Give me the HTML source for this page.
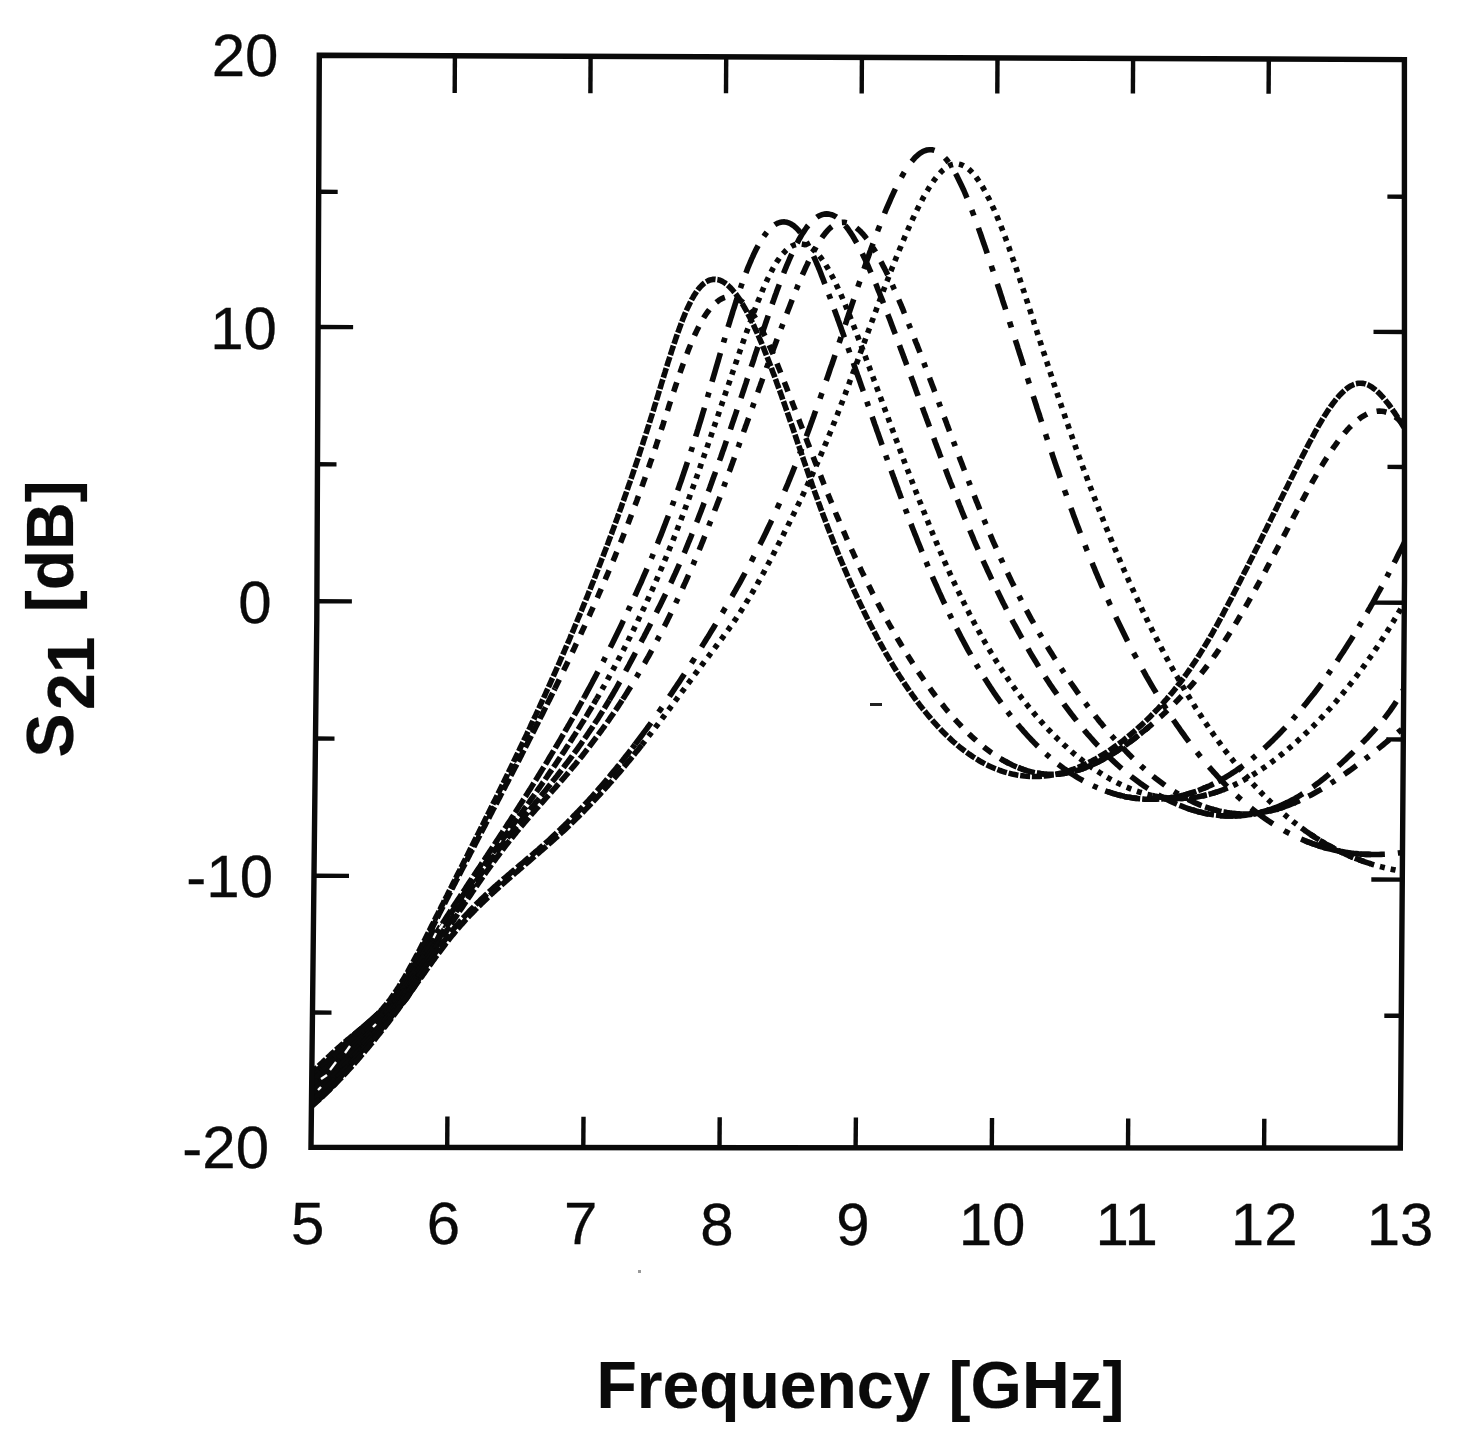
<!DOCTYPE html>
<html lang="en"><head><meta charset="utf-8"><title>S21 [dB] versus Frequency [GHz]</title>
<style>html,body{margin:0;padding:0;background:#fff}svg{display:block}text{font-family:"Liberation Sans",Arial,Helvetica,sans-serif;fill:#0a0a0a}.tk{font-size:60px;stroke:#0a0a0a;stroke-width:.3px}.ax{font-size:66px;font-weight:bold;stroke:#0a0a0a;stroke-width:.2px}.c{fill:none;stroke:#0a0a0a;stroke-linecap:butt;stroke-linejoin:round}.f{fill:none;stroke:#0a0a0a}</style></head><body>
<svg width="1457" height="1452" viewBox="0 0 1457 1452">
<rect width="1457" height="1452" fill="#fff"/>
<defs><clipPath id="cp"><polygon points="319.3,55.2 1404.4,59.6 1404.5,580.0 1400.3,1148.1 311.0,1147.4 316.8,620.0"/></clipPath></defs>
<g clip-path="url(#cp)">
<polygon fill="#0a0a0a" points="312.0,1071.0 315.2,1068.2 330.3,1054.5 342.4,1042.4 351.5,1033.3 363.6,1022.7 375.8,1012.0 387.9,1001.5 398.5,986.4 406.0,975.8 415.0,957.6 424.2,940.9 433.3,922.7 439.4,950.0 428.8,966.7 419.7,983.3 409.0,1000.0 398.5,1012.0 387.9,1025.8 375.8,1039.4 363.6,1053.0 350.0,1069.7 337.9,1084.8 324.2,1098.5 313.6,1107.6 312.0,1109.0"/>
<path class="c" stroke-width="5.6" stroke-dasharray="10 1.8" d="M310.0 1074.1L311.8 1072.4L313.6 1070.7L315.5 1068.9L317.3 1067.2L319.1 1065.5L320.9 1063.8L322.8 1062.1L324.6 1060.4L326.4 1058.7L328.2 1057.0L330.1 1055.3L331.9 1053.6L333.8 1051.9L335.6 1050.2L337.5 1048.5L339.4 1046.9L341.2 1045.2L343.1 1043.6L345.0 1041.9L346.9 1040.3L348.9 1038.7L350.8 1037.1L352.7 1035.5L354.7 1034.0L356.6 1032.4L358.6 1030.8L360.5 1029.3L362.5 1027.7L364.4 1026.1L366.3 1024.5L368.2 1022.8L370.1 1021.2L372.0 1019.5L373.8 1017.8L375.6 1016.1L377.4 1014.3L379.1 1012.5L380.8 1010.7L382.5 1008.8L384.1 1006.9L385.7 1005.0L387.3 1003.1L388.9 1001.1L390.4 999.1L391.8 997.0L393.3 995.0L394.7 992.9L396.1 990.9L397.4 988.8L398.8 986.7L400.1 984.5L401.4 982.4L402.7 980.3L404.0 978.1L405.3 976.0L406.5 973.8L407.8 971.6L409.0 969.4L410.2 967.2L411.4 965.0L412.6 962.9L413.8 960.7L415.0 958.4L416.2 956.2L417.4 954.0L418.5 951.8L419.7 949.6L420.8 947.4L422.0 945.1L423.1 942.9L424.3 940.7L425.4 938.4L426.5 936.2L427.6 934.0L428.8 931.7L429.9 929.5L431.0 927.3L432.1 925.0L433.3 922.8L434.4 920.6L435.5 918.3L436.6 916.1L437.8 913.8L438.9 911.6L440.0 909.4L441.1 907.1L442.3 904.9L443.4 902.7L444.5 900.4L445.6 898.2L446.8 896.0L447.9 893.7L449.0 891.5L450.1 889.2L451.3 887.0L452.4 884.8L453.5 882.5L454.7 880.3L455.8 878.1L456.9 875.8L458.0 873.6L459.2 871.4L460.3 869.1L461.4 866.9L462.5 864.7L463.7 862.4L464.8 860.2L465.9 858.0L467.1 855.7L468.2 853.5L469.3 851.3L470.4 849.0L471.6 846.8L472.7 844.5L473.8 842.3L474.9 840.1L476.1 837.8L477.2 835.6L478.3 833.4L479.4 831.1L480.6 828.9L481.7 826.6L482.8 824.4L483.9 822.2L485.0 819.9L486.1 817.7L487.3 815.4L488.4 813.2L489.5 811.0L490.6 808.7L491.7 806.5L492.8 804.2L493.9 802.0L495.1 799.7L496.2 797.5L497.3 795.3L498.4 793.0L499.5 790.8L500.6 788.5L501.7 786.3L502.8 784.0L503.9 781.8L505.0 779.5L506.1 777.3L507.2 775.0L508.3 772.8L509.4 770.5L510.5 768.3L511.6 766.0L512.7 763.8L513.7 761.5L514.8 759.3L515.9 757.0L517.0 754.7L518.1 752.5L519.2 750.2L520.2 748.0L521.3 745.7L522.4 743.4L523.5 741.2L524.5 738.9L525.6 736.7L526.7 734.4L527.7 732.1L528.8 729.9L529.9 727.6L530.9 725.3L532.0 723.1L533.0 720.8L534.1 718.5L535.2 716.3L536.2 714.0L537.3 711.7L538.3 709.4L539.4 707.2L540.4 704.9L541.4 702.6L542.5 700.3L543.5 698.1L544.6 695.8L545.6 693.5L546.6 691.2L547.7 688.9L548.7 686.7L549.7 684.4L550.7 682.1L551.7 679.8L552.8 677.5L553.8 675.2L554.8 672.9L555.8 670.6L556.8 668.4L557.8 666.1L558.8 663.8L559.8 661.5L560.8 659.2L561.8 656.9L562.8 654.6L563.8 652.3L564.8 650.0L565.8 647.7L566.8 645.4L567.8 643.1L568.8 640.8L569.8 638.5L570.7 636.2L571.7 633.9L572.7 631.6L573.7 629.3L574.6 627.0L575.6 624.7L576.6 622.4L577.5 620.0L578.5 617.7L579.5 615.4L580.4 613.1L581.4 610.8L582.3 608.5L583.3 606.2L584.2 603.8L585.2 601.5L586.1 599.2L587.1 596.9L588.0 594.6L588.9 592.2L589.9 589.9L590.8 587.6L591.7 585.3L592.6 582.9L593.6 580.6L594.5 578.3L595.4 576.0L596.3 573.6L597.2 571.3L598.1 569.0L599.0 566.6L599.9 564.3L600.8 562.0L601.7 559.6L602.6 557.3L603.5 554.9L604.4 552.6L605.3 550.3L606.2 547.9L607.1 545.6L608.0 543.2L608.8 540.9L609.7 538.5L610.6 536.2L611.5 533.9L612.3 531.5L613.2 529.2L614.1 526.8L614.9 524.5L615.8 522.1L616.6 519.7L617.5 517.4L618.3 515.0L619.2 512.7L620.0 510.3L620.9 508.0L621.7 505.6L622.5 503.3L623.4 500.9L624.2 498.5L625.0 496.2L625.9 493.8L626.7 491.4L627.5 489.1L628.3 486.7L629.1 484.3L630.0 482.0L630.8 479.6L631.6 477.2L632.4 474.9L633.2 472.5L634.0 470.1L634.8 467.8L635.6 465.4L636.4 463.0L637.2 460.6L638.0 458.3L638.8 455.9L639.5 453.5L640.3 451.1L641.1 448.7L641.9 446.4L642.7 444.0L643.4 441.6L644.2 439.2L645.0 436.8L645.7 434.5L646.5 432.1L647.3 429.7L648.0 427.3L648.8 424.9L649.5 422.5L650.3 420.1L651.0 417.8L651.8 415.4L652.5 413.0L653.3 410.6L654.0 408.2L654.7 405.8L655.5 403.4L656.2 401.0L656.9 398.6L657.7 396.2L658.4 393.8L659.1 391.4L659.9 389.0L660.6 386.6L661.3 384.3L662.0 381.9L662.8 379.5L663.5 377.1L664.2 374.7L665.0 372.3L665.7 369.9L666.5 367.5L667.2 365.1L667.9 362.7L668.7 360.3L669.5 357.9L670.2 355.6L671.0 353.2L671.7 350.8L672.5 348.4L673.3 346.0L674.1 343.7L674.9 341.3L675.7 338.9L676.5 336.5L677.3 334.2L678.2 331.8L679.0 329.5L679.9 327.1L680.7 324.8L681.6 322.4L682.5 320.1L683.4 317.8L684.4 315.4L685.3 313.1L686.3 310.8L687.3 308.5L688.4 306.3L689.5 304.0L690.6 301.8L691.7 299.5L693.0 297.4L694.2 295.2L695.6 293.1L697.0 291.0L698.5 289.0L700.1 287.1L701.8 285.3L703.7 283.6L705.7 282.1L707.9 280.9L710.2 279.9L712.6 279.4L715.1 279.3L717.6 279.6L720.0 280.3L722.3 281.4L724.4 282.6L726.4 284.1L728.3 285.7L730.2 287.5L731.9 289.3L733.5 291.2L735.1 293.1L736.6 295.1L738.0 297.2L739.4 299.2L740.8 301.4L742.1 303.5L743.4 305.6L744.7 307.8L745.9 310.0L747.1 312.2L748.2 314.4L749.4 316.6L750.5 318.9L751.6 321.1L752.7 323.4L753.8 325.6L754.8 327.9L755.9 330.2L756.9 332.4L757.9 334.7L758.9 337.0L759.9 339.3L760.9 341.6L761.9 343.9L762.8 346.3L763.8 348.6L764.7 350.9L765.6 353.2L766.5 355.5L767.5 357.9L768.4 360.2L769.3 362.5L770.2 364.9L771.1 367.2L771.9 369.6L772.8 371.9L773.7 374.3L774.6 376.6L775.4 379.0L776.3 381.3L777.1 383.7L778.0 386.0L778.8 388.4L779.7 390.7L780.5 393.1L781.4 395.4L782.2 397.8L783.0 400.2L783.9 402.5L784.7 404.9L785.5 407.2L786.3 409.6L787.2 412.0L788.0 414.3L788.8 416.7L789.6 419.1L790.4 421.4L791.3 423.8L792.1 426.2L792.9 428.5L793.7 430.9L794.5 433.3L795.3 435.6L796.1 438.0L796.9 440.4L797.7 442.8L798.5 445.1L799.4 447.5L800.2 449.9L801.0 452.2L801.8 454.6L802.6 457.0L803.4 459.3L804.2 461.7L805.0 464.1L805.9 466.4L806.7 468.8L807.5 471.2L808.3 473.5L809.1 475.9L809.9 478.3L810.8 480.6L811.6 483.0L812.4 485.4L813.3 487.7L814.1 490.1L814.9 492.4L815.8 494.8L816.6 497.1L817.5 499.5L818.3 501.9L819.2 504.2L820.0 506.6L820.9 508.9L821.8 511.3L822.6 513.6L823.5 516.0L824.4 518.3L825.3 520.6L826.1 523.0L827.0 525.3L827.9 527.7L828.8 530.0L829.7 532.3L830.6 534.7L831.6 537.0L832.5 539.3L833.4 541.7L834.3 544.0L835.2 546.3L836.2 548.6L837.1 550.9L838.1 553.3L839.0 555.6L840.0 557.9L840.9 560.2L841.9 562.5L842.9 564.8L843.8 567.1L844.8 569.4L845.8 571.7L846.8 574.0L847.8 576.3L848.8 578.6L849.8 580.9L850.8 583.2L851.8 585.5L852.9 587.8L853.9 590.1L854.9 592.3L856.0 594.6L857.0 596.9L858.1 599.2L859.1 601.4L860.2 603.7L861.3 606.0L862.4 608.2L863.4 610.5L864.5 612.7L865.6 615.0L866.7 617.2L867.9 619.5L869.0 621.7L870.1 623.9L871.2 626.2L872.4 628.4L873.5 630.6L874.7 632.8L875.9 635.0L877.0 637.3L878.2 639.5L879.4 641.7L880.6 643.9L881.8 646.0L883.0 648.2L884.3 650.4L885.5 652.6L886.7 654.8L888.0 656.9L889.3 659.1L890.5 661.3L891.8 663.4L893.1 665.6L894.4 667.7L895.7 669.8L897.0 672.0L898.4 674.1L899.7 676.2L901.1 678.3L902.4 680.4L903.8 682.5L905.2 684.6L906.6 686.6L908.0 688.7L909.4 690.8L910.9 692.8L912.3 694.9L913.8 696.9L915.2 698.9L916.7 700.9L918.2 702.9L919.7 704.9L921.3 706.9L922.8 708.9L924.4 710.8L926.0 712.8L927.6 714.7L929.2 716.6L930.8 718.5L932.4 720.4L934.1 722.3L935.8 724.2L937.4 726.0L939.2 727.8L940.9 729.7L942.6 731.4L944.4 733.2L946.2 735.0L948.0 736.7L949.8 738.4L951.6 740.1L953.5 741.8L955.4 743.4L957.3 745.1L959.2 746.7L961.2 748.2L963.2 749.8L965.1 751.3L967.2 752.8L969.2 754.2L971.3 755.6L973.3 757.0L975.5 758.4L977.6 759.7L979.7 761.0L981.9 762.2L984.1 763.4L986.3 764.6L988.6 765.7L990.8 766.7L993.1 767.7L995.4 768.7L997.8 769.6L1000.1 770.5L1002.5 771.3L1004.9 772.1L1007.3 772.8L1009.7 773.4L1012.1 774.0L1014.6 774.5L1017.0 775.0L1019.5 775.4L1022.0 775.7L1024.5 776.0L1027.0 776.2L1029.5 776.4L1032.0 776.5L1034.5 776.5L1037.0 776.5L1039.5 776.4L1042.0 776.2L1044.5 776.0L1047.0 775.7L1049.4 775.4L1051.9 775.0L1054.4 774.6L1056.8 774.1L1059.3 773.5L1061.7 772.9L1064.1 772.3L1066.5 771.6L1068.9 770.8L1071.3 770.0L1073.6 769.2L1076.0 768.3L1078.3 767.3L1080.6 766.4L1082.9 765.4L1085.2 764.3L1087.4 763.2L1089.7 762.1L1091.9 761.0L1094.1 759.8L1096.3 758.6L1098.5 757.3L1100.6 756.0L1102.8 754.7L1104.9 753.4L1107.0 752.1L1109.1 750.7L1111.1 749.3L1113.2 747.8L1115.2 746.4L1117.3 744.9L1119.3 743.4L1121.3 741.9L1123.3 740.4L1125.2 738.8L1127.2 737.3L1129.1 735.7L1131.0 734.1L1132.9 732.5L1134.8 730.8L1136.7 729.2L1138.6 727.5L1140.5 725.9L1142.3 724.2L1144.1 722.5L1146.0 720.7L1147.8 719.0L1149.6 717.3L1151.3 715.5L1153.1 713.7L1154.8 711.9L1156.6 710.1L1158.3 708.3L1160.0 706.5L1161.7 704.6L1163.4 702.8L1165.0 700.9L1166.7 699.0L1168.3 697.1L1169.9 695.2L1171.6 693.3L1173.1 691.4L1174.7 689.4L1176.3 687.5L1177.8 685.5L1179.4 683.5L1180.9 681.5L1182.4 679.5L1183.9 677.5L1185.4 675.5L1186.8 673.5L1188.3 671.4L1189.7 669.4L1191.1 667.3L1192.5 665.2L1193.9 663.2L1195.3 661.1L1196.7 659.0L1198.0 656.9L1199.4 654.8L1200.7 652.6L1202.0 650.5L1203.4 648.4L1204.7 646.2L1205.9 644.1L1207.2 642.0L1208.5 639.8L1209.8 637.6L1211.0 635.5L1212.3 633.3L1213.5 631.1L1214.7 628.9L1216.0 626.8L1217.2 624.6L1218.4 622.4L1219.6 620.2L1220.8 618.0L1222.0 615.8L1223.2 613.6L1224.3 611.4L1225.5 609.2L1226.7 607.0L1227.9 604.7L1229.0 602.5L1230.2 600.3L1231.4 598.1L1232.5 595.9L1233.7 593.6L1234.8 591.4L1236.0 589.2L1237.1 587.0L1238.2 584.7L1239.4 582.5L1240.5 580.3L1241.6 578.0L1242.8 575.8L1243.9 573.6L1245.0 571.3L1246.2 569.1L1247.3 566.9L1248.4 564.6L1249.5 562.4L1250.6 560.2L1251.8 557.9L1252.9 555.7L1254.0 553.4L1255.1 551.2L1256.2 549.0L1257.4 546.7L1258.5 544.5L1259.6 542.2L1260.7 540.0L1261.8 537.7L1262.9 535.5L1264.0 533.3L1265.1 531.0L1266.3 528.8L1267.4 526.5L1268.5 524.3L1269.6 522.0L1270.7 519.8L1271.8 517.6L1272.9 515.3L1274.0 513.1L1275.1 510.8L1276.3 508.6L1277.4 506.3L1278.5 504.1L1279.6 501.8L1280.7 499.6L1281.8 497.4L1282.9 495.1L1284.0 492.9L1285.1 490.6L1286.3 488.4L1287.4 486.2L1288.5 483.9L1289.6 481.7L1290.7 479.4L1291.9 477.2L1293.0 475.0L1294.1 472.7L1295.2 470.5L1296.3 468.2L1297.5 466.0L1298.6 463.8L1299.7 461.5L1300.8 459.3L1302.0 457.1L1303.1 454.8L1304.3 452.6L1305.4 450.4L1306.5 448.2L1307.7 445.9L1308.8 443.7L1310.0 441.5L1311.2 439.3L1312.4 437.1L1313.6 434.9L1314.7 432.7L1316.0 430.5L1317.2 428.3L1318.4 426.1L1319.7 423.9L1320.9 421.8L1322.2 419.6L1323.5 417.5L1324.8 415.4L1326.2 413.2L1327.5 411.1L1328.9 409.1L1330.3 407.0L1331.8 405.0L1333.3 402.9L1334.8 401.0L1336.3 399.0L1338.0 397.1L1339.6 395.2L1341.4 393.4L1343.2 391.7L1345.0 390.0L1347.0 388.4L1349.0 387.0L1351.2 385.7L1353.4 384.7L1355.8 383.8L1358.3 383.3L1360.8 383.2L1363.2 383.4L1365.7 384.0L1368.0 384.9L1370.2 386.1L1372.3 387.4L1374.3 388.9L1376.3 390.5L1378.1 392.2L1379.9 394.0L1381.6 395.8L1383.3 397.7L1384.9 399.6L1386.4 401.6L1388.0 403.5L1389.5 405.5L1391.0 407.6L1392.4 409.6L1393.8 411.7L1395.2 413.7L1396.6 415.8L1398.0 417.9L1399.3 420.0L1400.7 422.1L1402.0 424.2L1403.4 426.4L1404.7 428.5L1406.0 430.6"/>
<path class="c" stroke-width="5.6" stroke-dasharray="13 3" d="M310.0 1079.0L311.8 1077.3L313.7 1075.6L315.5 1073.8L317.3 1072.1L319.1 1070.4L320.9 1068.7L322.7 1066.9L324.5 1065.2L326.3 1063.5L328.2 1061.7L330.0 1060.0L331.8 1058.3L333.6 1056.6L335.5 1054.9L337.3 1053.2L339.1 1051.5L341.0 1049.8L342.8 1048.1L344.7 1046.4L346.6 1044.8L348.5 1043.2L350.4 1041.5L352.3 1039.9L354.2 1038.3L356.2 1036.7L358.1 1035.2L360.1 1033.6L362.0 1032.0L363.9 1030.4L365.8 1028.8L367.7 1027.1L369.6 1025.5L371.5 1023.8L373.3 1022.1L375.1 1020.4L376.9 1018.6L378.6 1016.8L380.3 1015.0L382.0 1013.1L383.7 1011.2L385.3 1009.3L386.9 1007.4L388.4 1005.4L389.9 1003.4L391.4 1001.4L392.8 999.3L394.2 997.2L395.6 995.2L397.0 993.1L398.3 990.9L399.6 988.8L401.0 986.7L402.2 984.5L403.5 982.4L404.8 980.2L406.0 978.1L407.3 975.9L408.5 973.7L409.7 971.5L410.9 969.3L412.1 967.1L413.3 964.9L414.5 962.7L415.6 960.5L416.8 958.3L418.0 956.0L419.1 953.8L420.3 951.6L421.4 949.4L422.5 947.1L423.7 944.9L424.8 942.7L425.9 940.4L427.1 938.2L428.2 936.0L429.3 933.7L430.4 931.5L431.6 929.2L432.7 927.0L433.8 924.8L434.9 922.5L436.1 920.3L437.2 918.1L438.3 915.8L439.4 913.6L440.6 911.3L441.7 909.1L442.8 906.9L444.0 904.6L445.1 902.4L446.2 900.2L447.4 898.0L448.5 895.7L449.7 893.5L450.8 891.3L451.9 889.0L453.1 886.8L454.2 884.6L455.4 882.4L456.5 880.1L457.7 877.9L458.8 875.7L460.0 873.4L461.1 871.2L462.3 869.0L463.4 866.8L464.6 864.6L465.7 862.3L466.9 860.1L468.0 857.9L469.2 855.7L470.3 853.4L471.5 851.2L472.6 849.0L473.8 846.8L475.0 844.6L476.1 842.3L477.3 840.1L478.4 837.9L479.6 835.7L480.7 833.4L481.9 831.2L483.1 829.0L484.2 826.8L485.4 824.6L486.5 822.3L487.7 820.1L488.9 817.9L490.0 815.7L491.2 813.5L492.3 811.2L493.5 809.0L494.7 806.8L495.8 804.6L497.0 802.4L498.1 800.1L499.3 797.9L500.4 795.7L501.6 793.5L502.8 791.3L503.9 789.0L505.1 786.8L506.2 784.6L507.4 782.4L508.5 780.2L509.7 777.9L510.8 775.7L512.0 773.5L513.1 771.3L514.3 769.0L515.4 766.8L516.6 764.6L517.7 762.4L518.9 760.1L520.0 757.9L521.2 755.7L522.3 753.4L523.4 751.2L524.6 749.0L525.7 746.8L526.9 744.5L528.0 742.3L529.1 740.1L530.3 737.8L531.4 735.6L532.5 733.4L533.7 731.1L534.8 728.9L535.9 726.7L537.1 724.4L538.2 722.2L539.3 720.0L540.4 717.7L541.6 715.5L542.7 713.2L543.8 711.0L544.9 708.8L546.0 706.5L547.1 704.3L548.2 702.0L549.4 699.8L550.5 697.5L551.6 695.3L552.7 693.0L553.8 690.8L554.9 688.5"/>
<path class="c" stroke-width="5.6" stroke-dasharray="10 10" d="M554.9 688.5L556.0 686.3L557.1 684.0L558.2 681.8L559.3 679.5L560.4 677.3L561.5 675.0L562.5 672.8L563.6 670.5L564.7 668.3L565.8 666.0L566.9 663.7L568.0 661.5L569.0 659.2L570.1 657.0L571.2 654.7L572.2 652.4L573.3 650.2L574.4 647.9L575.4 645.6L576.5 643.4L577.6 641.1L578.6 638.8L579.7 636.6L580.7 634.3L581.8 632.0L582.8 629.7L583.9 627.5L584.9 625.2L586.0 622.9L587.0 620.6L588.0 618.4L589.1 616.1L590.1 613.8L591.1 611.5L592.2 609.2L593.2 606.9L594.2 604.7L595.2 602.4L596.3 600.1L597.3 597.8L598.3 595.5L599.3 593.2L600.3 590.9L601.3 588.6L602.3 586.3L603.3 584.0L604.3 581.7L605.3 579.4L606.2 577.1L607.2 574.8L608.2 572.5L609.2 570.2L610.2 567.9L611.1 565.6L612.1 563.3L613.1 561.0L614.0 558.7L615.0 556.3L615.9 554.0L616.9 551.7L617.8 549.4L618.8 547.1L619.7 544.7L620.6 542.4L621.6 540.1L622.5 537.8L623.4 535.4L624.3 533.1L625.3 530.8L626.2 528.5L627.1 526.1L628.0 523.8L628.9 521.5L629.8 519.1L630.7 516.8L631.6 514.4L632.5 512.1L633.4 509.8L634.2 507.4L635.1 505.1L636.0 502.7L636.9 500.4L637.7 498.0L638.6 495.7L639.5 493.3L640.3 491.0L641.2 488.6L642.0 486.3L642.9 483.9L643.7 481.5L644.6 479.2L645.4 476.8L646.2 474.5L647.1 472.1L647.9 469.7L648.7 467.4L649.5 465.0L650.3 462.6L651.2 460.3L652.0 457.9L652.8 455.5L653.6 453.2L654.4 450.8L655.2 448.4L656.0 446.0L656.7 443.7L657.5 441.3L658.3 438.9L659.1 436.5L659.9 434.1L660.6 431.8L661.4 429.4L662.2 427.0L663.0 424.6L663.7 422.2L664.5 419.8L665.3 417.5L666.0 415.1L666.8 412.7L667.6 410.3L668.4 407.9L669.1 405.5L669.9 403.2L670.7 400.8L671.5 398.4L672.2 396.0L673.0 393.6L673.8 391.3L674.6 388.9L675.4 386.5L676.2 384.1L677.0 381.8L677.8 379.4L678.6 377.0L679.4 374.7L680.2 372.3L681.0 369.9L681.9 367.6L682.7 365.2L683.6 362.9L684.4 360.5L685.3 358.1L686.2 355.8L687.1 353.5L688.0 351.1L688.9 348.8L689.8 346.5L690.8 344.2L691.7 341.8L692.7 339.5L693.7 337.2L694.7 335.0L695.8 332.7L696.9 330.4L698.0 328.2L699.1 325.9L700.3 323.7L701.5 321.5L702.8 319.4L704.0 317.2L705.4 315.1L706.8 313.0L708.3 311.0L709.8 309.0L711.4 307.1L713.1 305.3L714.9 303.5L716.8 301.9L718.8 300.4L720.9 299.1L723.2 298.0L725.6 297.2L728.0 296.8L730.5 296.8L733.0 297.1L735.4 297.9L737.7 298.9L739.8 300.2L741.9 301.6L743.8 303.2L745.6 305.0L747.3 306.8L748.9 308.7L750.4 310.7L751.9 312.7L753.3 314.8L754.7 316.9L756.0 319.0L757.2 321.2L758.5 323.4L759.7 325.6L760.9 327.8L762.0 330.0L763.1 332.2L764.2 334.5L765.3 336.8L766.4 339.0L767.5 341.3L768.5 343.6L769.5 345.9L770.5 348.1L771.5 350.4L772.5 352.7L773.5 355.0L774.5 357.4L775.4 359.7L776.4 362.0L777.3 364.3L778.2 366.6L779.2 369.0L780.1 371.3L781.0 373.6L781.9 375.9L782.9 378.3L783.8 380.6L784.7 382.9L785.6 385.3L786.5 387.6L787.4 389.9L788.3 392.3L789.2 394.6L790.1 397.0L791.0 399.3L791.9 401.6L792.8 404.0L793.7 406.3L794.6 408.6L795.5 411.0L796.4 413.3L797.3 415.7L798.2 418.0L799.1 420.3L800.0 422.7L800.9 425.0L801.8 427.3L802.7 429.7L803.6 432.0L804.5 434.4L805.4 436.7L806.3 439.0L807.2 441.4L808.1 443.7L809.0 446.0L809.9 448.4L810.8 450.7L811.7 453.0L812.6 455.4L813.5 457.7L814.4 460.0L815.3 462.4L816.3 464.7L817.2 467.0L818.1 469.4L819.0 471.7L819.9 474.0L820.9 476.3L821.8 478.7L822.7 481.0L823.6 483.3L824.6 485.6L825.5 488.0L826.4 490.3L827.4 492.6L828.3 494.9L829.3 497.3L830.2 499.6L831.2 501.9L832.1 504.2L833.1 506.5L834.0 508.8L835.0 511.1L835.9 513.5L836.9 515.8L837.9 518.1L838.9 520.4L839.8 522.7L840.8 525.0L841.8 527.3L842.8 529.6L843.8 531.9L844.8 534.2L845.8 536.5L846.8 538.8L847.8 541.1L848.8 543.4L849.9 545.6L850.9 547.9L851.9 550.2L853.0 552.5L854.0 554.8L855.0 557.0L856.1 559.3L857.2 561.6L858.2 563.8L859.3 566.1L860.4 568.4L861.4 570.6L862.5 572.9L863.6 575.1L864.7 577.4L865.8 579.6L866.9 581.9L868.0 584.1L869.2 586.4L870.3 588.6L871.4 590.8L872.5 593.1L873.7 595.3L874.8 597.5L876.0 599.8L877.1 602.0L878.3 604.2L879.5 606.4L880.7 608.6L881.8 610.8L883.0 613.0L884.2 615.2L885.4 617.4L886.6 619.6L887.9 621.8L889.1 624.0L890.3 626.2L891.6 628.3L892.8 630.5L894.0 632.7L895.3 634.9L896.6 637.0L897.8 639.2L899.1 641.3L900.4 643.5L901.7 645.6L903.0 647.8L904.3 649.9L905.6 652.0L906.9 654.2L908.3 656.3L909.6 658.4L911.0 660.5L912.3 662.6L913.7 664.7L915.0 666.8L916.4 668.9L917.8 671.0L919.2 673.1L920.6 675.1L922.0 677.2L923.5 679.3L924.9 681.3L926.3 683.3L927.8 685.4L929.3 687.4L930.7 689.4L932.2 691.5L933.7 693.5L935.2 695.5L936.8 697.4L938.3 699.4L939.8 701.4L941.4 703.4L943.0 705.3L944.5 707.3L946.1 709.2L947.7 711.1L949.4 713.0L951.0 714.9L952.6 716.8L954.3 718.7L956.0 720.5L957.7 722.4L959.4 724.2L961.1 726.0L962.9 727.8L964.6 729.6L966.4 731.4L968.2 733.1L970.0 734.9L971.8 736.6L973.7 738.3L975.5 739.9L977.4 741.6L979.3 743.2L981.2 744.8L983.2 746.4L985.1 748.0L987.1 749.5L989.1 751.0L991.1 752.5L993.2 753.9L995.3 755.3L997.4 756.7L999.5 758.0L1001.6 759.3L1003.8 760.6L1006.0 761.8L1008.2 763.0L1010.4 764.1L1012.7 765.2L1015.0 766.2L1017.3 767.2L1019.6 768.1L1021.9 769.0L1024.3 769.8L1026.7 770.6L1029.1 771.3L1031.5 771.9L1034.0 772.5L1036.4 773.0L1038.9 773.4L1041.4 773.7L1043.8 774.0L1046.3 774.2L1048.8 774.4L1051.3 774.4L1053.8 774.4L1056.3 774.3L1058.8 774.1L1061.3 773.8L1063.8 773.5L1066.3 773.1L1068.7 772.6L1071.2 772.1L1073.6 771.5L1076.0 770.8L1078.4 770.1L1080.8 769.3L1083.2 768.5L1085.5 767.6L1087.8 766.7L1090.2 765.7L1092.4 764.7L1094.7 763.6L1097.0 762.5L1099.2 761.4L1101.4 760.2L1103.6 759.0L1105.8 757.8L1108.0 756.5L1110.1 755.3L1112.2 754.0L1114.4 752.6L1116.5 751.3L1118.6 749.9L1120.6 748.5L1122.7 747.0L1124.7 745.6L1126.8 744.1L1128.8 742.7L1130.8 741.2L1132.8 739.7L1134.8 738.2L1136.8 736.6L1138.7 735.1L1140.7 733.5L1142.7 731.9L1144.6 730.4L1146.5 728.8L1148.5 727.2L1150.4 725.6L1152.3 723.9L1154.2 722.3L1156.1 720.7L1157.9 719.0L1159.8 717.3L1161.7 715.7L1163.5 714.0L1165.4 712.3L1167.2 710.5L1169.0 708.8L1170.8 707.1L1172.6 705.3L1174.4 703.6L1176.1 701.8L1177.9 700.0L1179.6 698.2L1181.3 696.4L1183.1 694.6L1184.8 692.7L1186.5 690.9L1188.1 689.0L1189.8 687.1L1191.4 685.3L1193.1 683.4L1194.7 681.5L1196.3 679.5L1197.9 677.6L1199.5 675.7L1201.1 673.7L1202.6 671.8L1204.2 669.8L1205.7 667.8L1207.2 665.8L1208.7 663.8L1210.2 661.8L1211.7 659.8L1213.2 657.8L1214.6 655.7L1216.1 653.7L1217.5 651.6L1218.9 649.6L1220.3 647.5L1221.7 645.4L1223.1 643.3L1224.5 641.2L1225.9 639.1L1227.2 637.0L1228.6 634.9L1229.9 632.8L1231.2 630.7L1232.6 628.6L1233.9 626.4L1235.2 624.3L1236.5 622.1L1237.8 620.0L1239.0 617.8L1240.3 615.7L1241.6 613.5L1242.9 611.4L1244.1 609.2L1245.4 607.0L1246.6 604.9L1247.9 602.7L1249.1 600.5L1250.3 598.3L1251.5 596.2L1252.8 594.0L1254.0 591.8L1255.2 589.6L1256.4 587.4L1257.6 585.2L1258.8 583.0L1260.0 580.8L1261.2 578.6L1262.4 576.4L1263.6 574.2L1264.8 572.0L1266.0 569.8L1267.1 567.6L1268.3 565.4L1269.5 563.2L1270.7 560.9L1271.8 558.7L1273.0 556.5L1274.2 554.3L1275.3 552.1L1276.5 549.9L1277.7 547.6L1278.8 545.4L1280.0 543.2L1281.1 541.0L1282.3 538.8L1283.5 536.5L1284.6 534.3L1285.8 532.1L1286.9 529.9L1288.1 527.7L1289.2 525.4L1290.4 523.2L1291.5 521.0L1292.7 518.8L1293.8 516.5L1295.0 514.3L1296.2 512.1L1297.3 509.9L1298.5 507.7L1299.7 505.5L1300.8 503.2L1302.0 501.0L1303.2 498.8L1304.4 496.6L1305.6 494.4L1306.8 492.2L1307.9 490.0L1309.2 487.8L1310.4 485.6L1311.6 483.4L1312.8 481.2L1314.0 479.1L1315.3 476.9L1316.5 474.7L1317.8 472.6L1319.0 470.4L1320.3 468.2L1321.6 466.1L1322.9 463.9L1324.2 461.8L1325.5 459.7L1326.9 457.6L1328.2 455.5L1329.6 453.4L1331.0 451.3L1332.4 449.2L1333.8 447.1L1335.3 445.1L1336.7 443.1L1338.2 441.1L1339.7 439.1L1341.3 437.1L1342.8 435.1L1344.4 433.2L1346.1 431.3L1347.7 429.4L1349.4 427.6L1351.2 425.8L1353.0 424.1L1354.8 422.4L1356.7 420.8L1358.7 419.2L1360.7 417.7L1362.8 416.4L1365.0 415.1L1367.2 413.9L1369.5 413.0L1371.9 412.2L1374.3 411.6L1376.8 411.2L1379.3 411.1L1381.8 411.2L1384.3 411.6L1386.7 412.3L1389.0 413.2L1391.3 414.3L1393.4 415.5L1395.5 417.0L1397.4 418.5L1399.3 420.2L1401.1 421.9L1402.8 423.8L1404.4 425.7L1406.0 427.6"/>
<path class="c" stroke-width="5.6" stroke-dasharray="17 2" d="M1001.6 759.3L1003.8 760.6L1006.0 761.8L1008.2 763.0L1010.4 764.1L1012.7 765.2L1015.0 766.2L1017.3 767.2L1019.6 768.1L1021.9 769.0L1024.3 769.8L1026.7 770.6L1029.1 771.3L1031.5 771.9L1034.0 772.5L1036.4 773.0L1038.9 773.4L1041.4 773.7L1043.8 774.0L1046.3 774.2L1048.8 774.4L1051.3 774.4L1053.8 774.4L1056.3 774.3L1058.8 774.1L1061.3 773.8L1063.8 773.5L1066.3 773.1L1068.7 772.6L1071.2 772.1L1073.6 771.5L1076.0 770.8L1078.4 770.1L1080.8 769.3L1083.2 768.5L1085.5 767.6L1087.8 766.7L1090.2 765.7L1092.4 764.7L1094.7 763.6L1097.0 762.5L1099.2 761.4L1101.4 760.2L1103.6 759.0L1105.8 757.8L1108.0 756.5L1110.1 755.3L1112.2 754.0L1114.4 752.6L1116.5 751.3L1118.6 749.9L1120.6 748.5L1122.7 747.0L1124.7 745.6L1126.8 744.1L1128.8 742.7L1130.8 741.2L1132.8 739.7L1134.8 738.2L1136.8 736.6L1138.7 735.1L1140.7 733.5L1142.7 731.9L1144.6 730.4L1146.5 728.8L1148.5 727.2"/>
<path class="c" stroke-width="5.6" stroke-dasharray="16 3" d="M310.0 1083.8L311.7 1081.9L313.5 1080.1L315.2 1078.4L317.0 1076.6L318.8 1074.9L320.7 1073.2L322.5 1071.5L324.3 1069.8L326.2 1068.1L328.1 1066.5L330.0 1064.8L331.9 1063.2L333.8 1061.5L335.7 1059.9L337.6 1058.3L339.5 1056.7L341.4 1055.1L343.3 1053.4L345.2 1051.8L347.1 1050.2L349.0 1048.5L350.9 1046.9L352.8 1045.2L354.6 1043.6L356.5 1041.9L358.3 1040.2L360.1 1038.5L361.9 1036.7L363.7 1035.0L365.5 1033.2L367.2 1031.4L369.0 1029.6L370.7 1027.8L372.4 1025.9L374.0 1024.1L375.7 1022.2L377.3 1020.3L378.9 1018.3L380.5 1016.4L382.0 1014.4L383.6 1012.4L385.1 1010.5L386.6 1008.5L388.1 1006.4L389.6 1004.4L391.0 1002.4L392.5 1000.4L393.9 998.3L395.3 996.3L396.8 994.2L398.2 992.1L399.6 990.1L401.0 988.0L402.4 985.9L403.8 983.8L405.1 981.7L406.5 979.6L407.9 977.5L409.2 975.4L410.6 973.3L411.9 971.2L413.3 969.1L414.6 967.0L416.0 964.9L417.3 962.8L418.7 960.7L420.0 958.5L421.3 956.4L422.7 954.3L424.0 952.2L425.4 950.1L426.7 948.0L428.0 945.9L429.4 943.7L430.7 941.6L432.1 939.5L433.4 937.4L434.8 935.3L436.1 933.2L437.5 931.1L438.8 929.0L440.2 926.9L441.6 924.8L442.9 922.7L444.3 920.6L445.6 918.5L447.0 916.4L448.4 914.3L449.7 912.2L451.1 910.1L452.5 908.0L453.9 905.9L455.2 903.8L456.6 901.7L458.0 899.6L459.4 897.6L460.7 895.5L462.1 893.4L463.5 891.3L464.9 889.2L466.2 887.1L467.6 885.0L469.0 882.9L470.4 880.8L471.8 878.7L473.2 876.7L474.5 874.6L475.9 872.5L477.3 870.4L478.7 868.3L480.1 866.2L481.4 864.1L482.8 862.0L484.2 860.0L485.6 857.9L487.0 855.8L488.3 853.7L489.7 851.6L491.1 849.5L492.5 847.4L493.8 845.3L495.2 843.2L496.6 841.1L498.0 839.0L499.3 837.0L500.7 834.9L502.1 832.8L503.4 830.7L504.8 828.6L506.2 826.5L507.5 824.4L508.9 822.3L510.3 820.2L511.6 818.1L513.0 816.0L514.3 813.9L515.7 811.8L517.0 809.7L518.4 807.5L519.7 805.4L521.1 803.3L522.4 801.2L523.8 799.1L525.1 797.0L526.5 794.9L527.8 792.8L529.1 790.6L530.5 788.5L531.8 786.4L533.1 784.3L534.4 782.2L535.8 780.0L537.1 777.9L538.4 775.8L539.7 773.6L541.0 771.5L542.3 769.4L543.7 767.2L545.0 765.1L546.3 763.0L547.6 760.8L548.8 758.7L550.1 756.5L551.4 754.4L552.7 752.2L554.0 750.1L555.3 747.9L556.6 745.8L557.8 743.6L559.1 741.5L560.4 739.3L561.6 737.2L562.9 735.0L564.2 732.8L565.4 730.7L566.7 728.5L567.9 726.3L569.2 724.2L570.4 722.0L571.6 719.8L572.9 717.6L574.1 715.5L575.3 713.3L576.6 711.1L577.8 708.9L579.0 706.7L580.2 704.5L581.4 702.3L582.6 700.2L583.8 698.0"/>
<path class="c" stroke-width="5.6" stroke-dasharray="30 11 5 11" d="M583.8 698.0L585.0 695.8L586.2 693.6L587.4 691.4L588.6 689.2L589.8 687.0L591.0 684.7L592.2 682.5L593.3 680.3L594.5 678.1L595.7 675.9L596.8 673.7L598.0 671.5L599.2 669.3L600.3 667.0L601.5 664.8L602.6 662.6L603.8 660.4L604.9 658.1L606.0 655.9L607.2 653.7L608.3 651.4L609.4 649.2L610.5 647.0L611.7 644.7L612.8 642.5L613.9 640.2L615.0 638.0L616.1 635.7L617.2 633.5L618.3 631.2L619.4 629.0L620.5 626.7L621.6 624.5L622.6 622.2L623.7 620.0L624.8 617.7L625.9 615.4L626.9 613.2L628.0 610.9L629.0 608.6L630.1 606.4L631.2 604.1L632.2 601.8L633.3 599.5L634.3 597.3L635.3 595.0L636.4 592.7L637.4 590.4L638.4 588.1L639.4 585.9L640.5 583.6L641.5 581.3L642.5 579.0L643.5 576.7L644.5 574.4L645.5 572.1L646.5 569.8L647.5 567.5L648.5 565.2L649.4 562.9L650.4 560.6L651.4 558.3L652.4 556.0L653.3 553.7L654.3 551.4L655.2 549.1L656.2 546.7L657.1 544.4L658.1 542.1L659.0 539.8L659.9 537.5L660.9 535.1L661.8 532.8L662.7 530.5L663.6 528.1L664.5 525.8L665.4 523.5L666.3 521.1L667.2 518.8L668.1 516.5L669.0 514.1L669.9 511.8L670.8 509.4L671.6 507.1L672.5 504.7L673.4 502.4L674.2 500.0L675.1 497.7L675.9 495.3L676.8 493.0L677.6 490.6L678.5 488.3L679.3 485.9L680.1 483.5L681.0 481.2L681.8 478.8L682.6 476.4L683.4 474.1L684.2 471.7L685.0 469.3L685.8 467.0L686.6 464.6L687.4 462.2L688.2 459.8L689.0 457.5L689.8 455.1L690.5 452.7L691.3 450.3L692.1 447.9L692.8 445.6L693.6 443.2L694.3 440.8L695.1 438.4L695.8 436.0L696.6 433.6L697.3 431.2L698.1 428.8L698.8 426.4L699.5 424.0L700.3 421.7L701.0 419.3L701.7 416.9L702.4 414.5L703.1 412.1L703.9 409.7L704.6 407.3L705.3 404.9L706.0 402.5L706.7 400.1L707.4 397.7L708.1 395.3L708.8 392.9L709.5 390.5L710.2 388.1L710.9 385.7L711.6 383.2L712.3 380.8L713.0 378.4L713.7 376.0L714.4 373.6L715.1 371.2L715.8 368.8L716.5 366.4L717.2 364.0L717.9 361.6L718.6 359.2L719.3 356.8L720.0 354.4L720.7 352.0L721.4 349.6L722.1 347.2L722.8 344.8L723.5 342.4L724.3 340.0L725.0 337.6L725.7 335.2L726.4 332.8L727.1 330.4L727.8 328.0L728.5 325.6L729.3 323.2L730.0 320.8L730.7 318.4L731.5 316.0L732.2 313.6L732.9 311.2L733.7 308.9L734.5 306.5L735.2 304.1L736.0 301.7L736.7 299.3L737.5 296.9L738.3 294.6L739.1 292.2L739.9 289.8L740.7 287.4L741.5 285.1L742.4 282.7L743.2 280.4L744.1 278.0L744.9 275.7L745.8 273.3L746.7 271.0L747.6 268.6L748.5 266.3L749.5 264.0L750.5 261.7L751.4 259.4L752.5 257.1L753.5 254.8L754.6 252.6L755.7 250.3L756.8 248.1L758.0 245.9L759.2 243.7L760.5 241.5L761.8 239.4L763.1 237.3L764.6 235.2L766.1 233.2L767.6 231.3L769.3 229.4L771.1 227.7L773.0 226.0L775.0 224.6L777.2 223.4L779.6 222.5L782.0 222.0L784.5 221.9L787.0 222.3L789.3 223.1L791.5 224.3L793.6 225.7L795.5 227.3L797.3 229.0L799.0 230.9L800.5 232.9L802.0 234.9L803.4 237.0L804.7 239.1L806.0 241.2L807.2 243.4L808.4 245.6L809.6 247.9L810.7 250.1L811.8 252.4L812.8 254.6L813.9 256.9L814.9 259.2L815.9 261.5L816.9 263.8L817.9 266.1L818.8 268.4L819.8 270.7L820.7 273.0L821.6 275.4L822.5 277.7L823.4 280.0L824.3 282.4L825.2 284.7L826.1 287.0L827.0 289.4L827.9 291.7L828.7 294.1L829.6 296.4L830.5 298.8L831.3 301.1L832.2 303.5L833.0 305.8L833.9 308.2L834.7 310.5L835.6 312.9L836.4 315.3L837.3 317.6L838.1 320.0L839.0 322.3L839.8 324.7L840.7 327.0L841.5 329.4L842.3 331.8L843.2 334.1L844.0 336.5L844.8 338.8L845.7 341.2L846.5 343.6L847.4 345.9L848.2 348.3L849.0 350.6L849.8 353.0L850.7 355.4L851.5 357.7L852.3 360.1L853.2 362.4L854.0 364.8L854.8 367.2L855.6 369.5L856.5 371.9L857.3 374.3L858.1 376.6L859.0 379.0L859.8 381.3L860.6 383.7L861.4 386.1L862.3 388.4L863.1 390.8L863.9 393.2L864.7 395.5L865.6 397.9L866.4 400.3L867.2 402.6L868.0 405.0L868.9 407.3L869.7 409.7L870.5 412.1L871.3 414.4L872.2 416.8L873.0 419.2L873.8 421.5L874.6 423.9L875.5 426.2L876.3 428.6L877.1 431.0L878.0 433.3L878.8 435.7L879.6 438.1L880.5 440.4L881.3 442.8L882.1 445.1L883.0 447.5L883.8 449.9L884.6 452.2L885.5 454.6L886.3 456.9L887.2 459.3L888.0 461.6L888.8 464.0L889.7 466.4L890.5 468.7L891.4 471.1L892.2 473.4L893.1 475.8L893.9 478.1L894.8 480.5L895.6 482.8L896.5 485.2L897.4 487.5L898.2 489.9L899.1 492.2L899.9 494.6L900.8 496.9L901.7 499.3L902.6 501.6L903.4 504.0L904.3 506.3L905.2 508.7L906.1 511.0L907.0 513.3L907.8 515.7L908.7 518.0L909.6 520.4L910.5 522.7L911.4 525.0L912.3 527.4L913.2 529.7L914.1 532.0L915.0 534.4L916.0 536.7L916.9 539.0L917.8 541.4L918.7 543.7L919.7 546.0L920.6 548.3L921.5 550.7L922.5 553.0L923.4 555.3L924.4 557.6L925.3 559.9L926.3 562.2L927.2 564.5L928.2 566.9L929.2 569.2L930.2 571.5L931.1 573.8L932.1 576.1L933.1 578.4L934.1 580.7L935.1 582.9L936.2 585.2L937.2 587.5L938.2 589.8L939.2 592.1L940.3 594.4L941.3 596.6L942.3 598.9L943.4 601.2L944.5 603.5L945.5 605.7L946.6 608.0L947.7 610.2L948.8 612.5L949.8 614.8L950.9 617.0L952.0 619.3L953.1 621.5L954.3 623.7L955.4 626.0L956.5 628.2L957.7 630.4L958.8 632.7L960.0 634.9L961.1 637.1L962.3 639.3L963.5 641.5L964.6 643.7L965.8 645.9L967.0 648.1L968.2 650.3L969.5 652.5L970.7 654.7L971.9 656.9L973.2 659.1L974.4 661.2L975.7 663.4L976.9 665.5L978.2 667.7L979.5 669.8L980.8 672.0L982.1 674.1L983.4 676.3L984.7 678.4L986.1 680.5L987.4 682.6L988.8 684.7L990.1 686.8L991.5 688.9L992.9 691.0L994.3 693.1L995.7 695.1L997.1 697.2L998.6 699.2L1000.0 701.3L1001.5 703.3L1002.9 705.4L1004.4 707.4L1005.9 709.4L1007.4 711.4L1008.9 713.4L1010.5 715.4L1012.0 717.3L1013.6 719.3L1015.1 721.2L1016.7 723.2L1018.3 725.1L1019.9 727.0L1021.6 728.9L1023.2 730.8L1024.9 732.7L1026.5 734.5L1028.2 736.4L1029.9 738.2L1031.6 740.0L1033.4 741.8L1035.1 743.6L1036.9 745.4L1038.7 747.1L1040.5 748.9L1042.3 750.6L1044.1 752.3L1046.0 754.0L1047.9 755.7L1049.8 757.3L1051.7 758.9L1053.6 760.5L1055.5 762.1L1057.5 763.7L1059.5 765.2L1061.5 766.7L1063.5 768.2L1065.5 769.6L1067.6 771.1L1069.6 772.5L1071.7 773.9L1073.8 775.2L1076.0 776.5L1078.1 777.8L1080.3 779.1L1082.4 780.3L1084.6 781.5L1086.9 782.7L1089.1 783.8L1091.3 784.9L1093.6 786.0L1095.9 787.0L1098.2 788.0L1100.5 789.0L1102.8 789.9L1105.2 790.8L1107.5 791.6L1109.9 792.4L1112.3 793.2L1114.7 793.9L1117.1 794.6L1119.5 795.2L1121.9 795.8L1124.4 796.4L1126.8 796.9L1129.3 797.3L1131.8 797.8L1134.2 798.1L1136.7 798.4L1139.2 798.7L1141.7 798.9L1144.2 799.1L1146.7 799.2L1149.2 799.3L1151.7 799.3L1154.2 799.3L1156.7 799.2L1159.2 799.0L1161.7 798.9L1164.2 798.6L1166.7 798.3L1169.2 798.0L1171.6 797.6L1174.1 797.2L1176.6 796.7L1179.0 796.2L1181.5 795.7L1183.9 795.1L1186.3 794.4L1188.7 793.7L1191.1 793.0L1193.5 792.2L1195.8 791.4L1198.2 790.5L1200.5 789.6L1202.8 788.7L1205.2 787.7L1207.4 786.7L1209.7 785.7L1212.0 784.6L1214.2 783.5L1216.5 782.3L1218.7 781.2L1220.9 780.0L1223.0 778.7L1225.2 777.5L1227.4 776.2L1229.5 774.9L1231.6 773.5L1233.7 772.2L1235.8 770.8L1237.8 769.4L1239.9 767.9L1241.9 766.5L1243.9 765.0L1246.0 763.5L1247.9 762.0L1249.9 760.4L1251.9 758.9L1253.8 757.3L1255.7 755.7L1257.7 754.1L1259.6 752.4L1261.4 750.8L1263.3 749.1L1265.2 747.5L1267.0 745.8L1268.8 744.1L1270.7 742.3L1272.5 740.6L1274.2 738.8L1276.0 737.1L1277.8 735.3L1279.5 733.5L1281.3 731.7L1283.0 729.9L1284.7 728.1L1286.4 726.3L1288.1 724.4L1289.8 722.6L1291.5 720.7L1293.1 718.8L1294.8 716.9L1296.4 715.0L1298.0 713.1L1299.7 711.2L1301.3 709.3L1302.9 707.4L1304.4 705.4L1306.0 703.5L1307.6 701.5L1309.1 699.6L1310.7 697.6L1312.2 695.6L1313.8 693.7L1315.3 691.7L1316.8 689.7L1318.3 687.7L1319.8 685.7L1321.3 683.6L1322.7 681.6L1324.2 679.6L1325.7 677.6L1327.1 675.5L1328.6 673.5L1330.0 671.4L1331.4 669.4L1332.9 667.3L1334.3 665.2L1335.7 663.2L1337.1 661.1L1338.5 659.0L1339.8 656.9L1341.2 654.8L1342.6 652.7L1344.0 650.6L1345.3 648.5L1346.7 646.4L1348.0 644.3L1349.3 642.2L1350.7 640.1L1352.0 638.0L1353.3 635.8L1354.6 633.7L1355.9 631.6L1357.2 629.4L1358.5 627.3L1359.8 625.1L1361.1 623.0L1362.4 620.8L1363.6 618.7L1364.9 616.5L1366.1 614.3L1367.4 612.2L1368.6 610.0L1369.9 607.8L1371.1 605.6L1372.4 603.5L1373.6 601.3L1374.8 599.1L1376.0 596.9L1377.2 594.7L1378.4 592.5L1379.6 590.3L1380.8 588.1L1382.0 585.9L1383.2 583.7L1384.4 581.5L1385.6 579.3L1386.7 577.1L1387.9 574.9L1389.1 572.7L1390.2 570.4L1391.4 568.2L1392.5 566.0L1393.7 563.8L1394.8 561.5L1396.0 559.3L1397.1 557.1L1398.2 554.8L1399.3 552.6L1400.5 550.4L1401.6 548.1L1402.7 545.9L1403.8 543.6L1404.9 541.4L1406.0 539.1"/>
<path class="c" stroke-width="5.6" stroke-dasharray="17 2" d="M1105.2 790.8L1107.5 791.6L1109.9 792.4L1112.3 793.2L1114.7 793.9L1117.1 794.6L1119.5 795.2L1121.9 795.8L1124.4 796.4L1126.8 796.9L1129.3 797.3L1131.8 797.8L1134.2 798.1L1136.7 798.4L1139.2 798.7L1141.7 798.9L1144.2 799.1L1146.7 799.2L1149.2 799.3L1151.7 799.3L1154.2 799.3L1156.7 799.2L1159.2 799.0L1161.7 798.9L1164.2 798.6L1166.7 798.3L1169.2 798.0L1171.6 797.6L1174.1 797.2L1176.6 796.7L1179.0 796.2L1181.5 795.7L1183.9 795.1L1186.3 794.4L1188.7 793.7L1191.1 793.0L1193.5 792.2L1195.8 791.4L1198.2 790.5L1200.5 789.6L1202.8 788.7L1205.2 787.7L1207.4 786.7L1209.7 785.7L1212.0 784.6L1214.2 783.5"/>
<path class="c" stroke-width="5.6" stroke-dasharray="12 3" d="M310.0 1088.6L311.8 1086.8L313.5 1085.1L315.3 1083.3L317.1 1081.6L318.9 1079.8L320.7 1078.1L322.6 1076.4L324.4 1074.7L326.2 1073.0L328.1 1071.3L329.9 1069.6L331.8 1067.9L333.7 1066.3L335.5 1064.6L337.4 1062.9L339.3 1061.3L341.1 1059.6L343.0 1057.9L344.9 1056.3L346.7 1054.6L348.6 1052.9L350.4 1051.2L352.3 1049.5L354.1 1047.8L355.9 1046.1L357.7 1044.4L359.5 1042.6L361.3 1040.9L363.1 1039.1L364.8 1037.3L366.6 1035.5L368.3 1033.7L370.0 1031.9L371.7 1030.1L373.4 1028.2L375.1 1026.3L376.8 1024.5L378.4 1022.6L380.0 1020.6L381.6 1018.7L383.2 1016.8L384.7 1014.8L386.3 1012.8L387.8 1010.9L389.3 1008.9L390.8 1006.8L392.3 1004.8L393.7 1002.8L395.2 1000.7L396.6 998.7L398.0 996.6L399.4 994.5L400.8 992.5L402.2 990.4L403.6 988.3L404.9 986.2L406.3 984.1L407.6 982.0L409.0 979.9L410.3 977.8L411.7 975.6L413.0 973.5L414.3 971.4L415.7 969.3L417.0 967.1L418.3 965.0L419.6 962.9L420.9 960.7L422.2 958.6L423.5 956.5L424.9 954.4L426.2 952.2L427.5 950.1L428.8 948.0L430.1 945.8L431.4 943.7L432.8 941.6L434.1 939.4L435.4 937.3L436.7 935.2L438.1 933.1L439.4 931.0L440.8 928.9L442.1 926.8L443.5 924.7L444.8 922.6L446.2 920.5L447.6 918.4L448.9 916.3L450.3 914.2L451.7 912.1L453.1 910.0L454.5 907.9L455.9 905.8L457.3 903.8L458.7 901.7L460.1 899.6L461.5 897.5L462.9 895.5L464.3 893.4L465.7 891.3L467.1 889.3L468.5 887.2L470.0 885.1L471.4 883.1L472.8 881.0L474.3 879.0L475.7 876.9L477.1 874.9L478.6 872.8L480.0 870.8L481.5 868.7L482.9 866.7L484.4 864.7L485.8 862.6L487.3 860.6L488.7 858.5L490.2 856.5L491.6 854.5L493.1 852.4L494.6 850.4L496.0 848.4L497.5 846.3L498.9 844.3L500.4 842.3L501.9 840.2L503.3 838.2L504.8 836.2L506.2 834.1L507.7 832.1L509.2 830.1L510.6 828.0L512.1 826.0L513.6 824.0L515.0 822.0L516.5 819.9L518.0 817.9L519.4 815.9L520.9 813.8L522.3 811.8L523.8 809.7L525.2 807.7L526.7 805.7L528.1 803.6L529.6 801.6L531.0 799.5L532.5 797.5L533.9 795.5L535.4 793.4L536.8 791.4L538.2 789.3L539.7 787.3L541.1 785.2L542.5 783.1L544.0 781.1L545.4 779.0L546.8 777.0L548.2 774.9L549.6 772.8L551.1 770.8L552.5 768.7L553.9 766.6L555.3 764.6L556.7 762.5L558.1 760.4L559.5 758.3L560.8 756.2L562.2 754.1L563.6 752.1L565.0 750.0L566.3 747.9L567.7 745.8L569.1 743.7L570.4 741.6L571.8 739.5L573.1 737.3L574.5 735.2L575.8 733.1L577.1 731.0L578.5 728.9L579.8 726.8L581.1 724.6L582.4 722.5L583.8 720.4L585.1 718.2L586.4 716.1L587.7 713.9L588.9 711.8L590.2 709.7L591.5 707.5L592.8 705.4L594.1 703.2L595.3 701.0L596.6 698.9"/>
<path class="c" stroke-width="5.6" stroke-dasharray="5 6" d="M596.6 698.9L597.9 696.7L599.1 694.5L600.4 692.4L601.6 690.2L602.8 688.0L604.1 685.8L605.3 683.7L606.5 681.5L607.7 679.3L608.9 677.1L610.1 674.9L611.3 672.7L612.5 670.5L613.7 668.3L614.9 666.1L616.1 663.9L617.3 661.7L618.4 659.5L619.6 657.2L620.8 655.0L621.9 652.8L623.1 650.6L624.2 648.4L625.4 646.1L626.5 643.9L627.6 641.7L628.7 639.4L629.9 637.2L631.0 634.9L632.1 632.7L633.2 630.5L634.3 628.2L635.4 625.9L636.5 623.7L637.6 621.4L638.6 619.2L639.7 616.9L640.8 614.7L641.9 612.4L642.9 610.1L644.0 607.9L645.0 605.6L646.1 603.3L647.1 601.0L648.2 598.7L649.2 596.5L650.2 594.2L651.2 591.9L652.3 589.6L653.3 587.3L654.3 585.0L655.3 582.7L656.3 580.4L657.3 578.1L658.3 575.8L659.3 573.5L660.2 571.2L661.2 568.9L662.2 566.6L663.2 564.3L664.1 562.0L665.1 559.7L666.0 557.4L667.0 555.1L668.0 552.8L668.9 550.4L669.8 548.1L670.8 545.8L671.7 543.5L672.6 541.2L673.6 538.8L674.5 536.5L675.4 534.2L676.3 531.8L677.2 529.5L678.1 527.2L679.0 524.8L679.9 522.5L680.8 520.2L681.7 517.8L682.6 515.5L683.5 513.1L684.4 510.8L685.2 508.4L686.1 506.1L687.0 503.7L687.8 501.4L688.7 499.0L689.6 496.7L690.4 494.3L691.3 492.0L692.1 489.6L693.0 487.3L693.8 484.9L694.7 482.6L695.5 480.2L696.3 477.9L697.2 475.5L698.0 473.1L698.9 470.8L699.7 468.4L700.5 466.0L701.3 463.7L702.2 461.3L703.0 459.0L703.8 456.6L704.6 454.2L705.5 451.9L706.3 449.5L707.1 447.1L707.9 444.8L708.7 442.4L709.6 440.0L710.4 437.7L711.2 435.3L712.0 432.9L712.8 430.6L713.6 428.2L714.4 425.8L715.2 423.5L716.0 421.1L716.9 418.7L717.7 416.3L718.5 414.0L719.3 411.6L720.1 409.2L720.9 406.9L721.7 404.5L722.5 402.1L723.3 399.8L724.1 397.4L724.9 395.0L725.7 392.6L726.5 390.3L727.3 387.9L728.2 385.5L729.0 383.2L729.8 380.8L730.6 378.4L731.4 376.1L732.2 373.7L733.0 371.3L733.8 369.0L734.6 366.6L735.4 364.2L736.3 361.8L737.1 359.5L737.9 357.1L738.7 354.7L739.5 352.4L740.3 350.0L741.2 347.6L742.0 345.3L742.8 342.9L743.6 340.6L744.5 338.2L745.3 335.8L746.1 333.5L747.0 331.1L747.8 328.8L748.7 326.4L749.5 324.0L750.4 321.7L751.2 319.3L752.1 317.0L753.0 314.6L753.8 312.3L754.7 310.0L755.6 307.6L756.5 305.3L757.4 302.9L758.3 300.6L759.3 298.3L760.2 296.0L761.2 293.7L762.1 291.3L763.1 289.0L764.1 286.7L765.1 284.5L766.2 282.2L767.2 279.9L768.3 277.6L769.4 275.4L770.5 273.2L771.7 270.9L772.8 268.7L774.1 266.5L775.3 264.4L776.6 262.2L778.0 260.2L779.4 258.1L780.9 256.1L782.5 254.1L784.2 252.3L785.9 250.5L787.8 248.8L789.8 247.3L792.0 246.0L794.2 245.0L796.6 244.3L799.1 243.9L801.6 244.0L804.1 244.4L806.4 245.2L808.7 246.3L810.8 247.6L812.8 249.1L814.7 250.8L816.5 252.6L818.1 254.4L819.7 256.3L821.3 258.3L822.7 260.4L824.1 262.4L825.5 264.5L826.8 266.7L828.1 268.8L829.3 271.0L830.5 273.2L831.7 275.4L832.9 277.6L834.0 279.9L835.1 282.1L836.2 284.4L837.2 286.6L838.3 288.9L839.3 291.2L840.4 293.5L841.4 295.7L842.4 298.0L843.4 300.3L844.3 302.6L845.3 305.0L846.3 307.3L847.2 309.6L848.1 311.9L849.1 314.2L850.0 316.6L850.9 318.9L851.8 321.2L852.8 323.5L853.7 325.9L854.6 328.2L855.5 330.5L856.4 332.9L857.3 335.2L858.1 337.6L859.0 339.9L859.9 342.2L860.8 344.6L861.7 346.9L862.6 349.3L863.4 351.6L864.3 354.0L865.2 356.3L866.1 358.7L866.9 361.0L867.8 363.3L868.7 365.7L869.6 368.0L870.4 370.4L871.3 372.7L872.2 375.1L873.1 377.4L873.9 379.8L874.8 382.1L875.7 384.5L876.5 386.8L877.4 389.2L878.3 391.5L879.2 393.9L880.0 396.2L880.9 398.6L881.8 400.9L882.6 403.3L883.5 405.6L884.4 407.9L885.2 410.3L886.1 412.6L887.0 415.0L887.9 417.3L888.7 419.7L889.6 422.0L890.5 424.4L891.3 426.7L892.2 429.1L893.1 431.4L894.0 433.8L894.8 436.1L895.7 438.5L896.6 440.8L897.5 443.1L898.4 445.5L899.2 447.8L900.1 450.2L901.0 452.5L901.9 454.9L902.8 457.2L903.6 459.5L904.5 461.9L905.4 464.2L906.3 466.6L907.2 468.9L908.1 471.2L909.0 473.6L909.9 475.9L910.8 478.3L911.7 480.6L912.6 482.9L913.5 485.3L914.4 487.6L915.3 489.9L916.2 492.3L917.1 494.6L918.0 496.9L918.9 499.3L919.8 501.6L920.8 503.9L921.7 506.3L922.6 508.6L923.5 510.9L924.5 513.2L925.4 515.6L926.3 517.9L927.3 520.2L928.2 522.5L929.1 524.8L930.1 527.2L931.0 529.5L932.0 531.8L932.9 534.1L933.9 536.4L934.9 538.7L935.8 541.0L936.8 543.4L937.8 545.7L938.8 548.0L939.7 550.3L940.7 552.6L941.7 554.9L942.7 557.2L943.7 559.5L944.7 561.8L945.7 564.0L946.7 566.3L947.8 568.6L948.8 570.9L949.8 573.2L950.9 575.5L951.9 577.7L952.9 580.0L954.0 582.3L955.1 584.6L956.1 586.8L957.2 589.1L958.3 591.3L959.4 593.6L960.5 595.8L961.6 598.1L962.7 600.3L963.8 602.6L964.9 604.8L966.0 607.1L967.1 609.3L968.3 611.5L969.4 613.8L970.6 616.0L971.7 618.2L972.9 620.4L974.1 622.6L975.3 624.8L976.5 627.0L977.7 629.2L978.9 631.4L980.1 633.6L981.3 635.8L982.5 638.0L983.8 640.2L985.0 642.3L986.3 644.5L987.5 646.6L988.8 648.8L990.1 651.0L991.4 653.1L992.7 655.2L994.0 657.4L995.3 659.5L996.6 661.6L998.0 663.7L999.3 665.9L1000.7 668.0L1002.0 670.1L1003.4 672.2L1004.8 674.2L1006.2 676.3L1007.6 678.4L1009.0 680.5L1010.4 682.5L1011.9 684.6L1013.3 686.6L1014.8 688.6L1016.3 690.7L1017.7 692.7L1019.2 694.7L1020.7 696.7L1022.2 698.7L1023.8 700.7L1025.3 702.7L1026.9 704.6L1028.4 706.6L1030.0 708.5L1031.6 710.5L1033.2 712.4L1034.8 714.3L1036.4 716.2L1038.1 718.1L1039.7 720.0L1041.4 721.9L1043.0 723.7L1044.7 725.6L1046.4 727.4L1048.1 729.2L1049.9 731.0L1051.6 732.8L1053.4 734.6L1055.1 736.4L1056.9 738.1L1058.7 739.9L1060.5 741.6L1062.4 743.3L1064.2 745.0L1066.1 746.7L1067.9 748.4L1069.8 750.0L1071.7 751.7L1073.6 753.3L1075.5 754.9L1077.5 756.5L1079.4 758.1L1081.4 759.6L1083.3 761.2L1085.3 762.7L1087.3 764.2L1089.4 765.6L1091.4 767.1L1093.5 768.5L1095.5 770.0L1097.6 771.3L1099.7 772.7L1101.8 774.0L1103.9 775.4L1106.1 776.7L1108.2 777.9L1110.4 779.2L1112.6 780.4L1114.8 781.5L1117.1 782.7L1119.3 783.8L1121.5 784.9L1123.8 785.9L1126.1 787.0L1128.4 787.9L1130.7 788.9L1133.1 789.8L1135.4 790.7L1137.8 791.5L1140.2 792.3L1142.5 793.0L1144.9 793.7L1147.4 794.4L1149.8 795.0L1152.2 795.6L1154.7 796.1L1157.1 796.5L1159.6 797.0L1162.1 797.3L1164.6 797.6L1167.1 797.9L1169.6 798.1L1172.1 798.3L1174.6 798.4L1177.1 798.5L1179.6 798.5L1182.1 798.4L1184.6 798.3L1187.1 798.1L1189.6 797.9L1192.0 797.7L1194.5 797.3L1197.0 797.0L1199.5 796.5L1201.9 796.1L1204.4 795.5L1206.8 794.9L1209.2 794.3L1211.6 793.6L1214.0 792.9L1216.4 792.1L1218.8 791.3L1221.1 790.5L1223.5 789.6L1225.8 788.7L1228.1 787.7L1230.4 786.7L1232.7 785.7L1235.0 784.6L1237.2 783.5L1239.4 782.4L1241.7 781.2L1243.9 780.0L1246.0 778.8L1248.2 777.5L1250.4 776.3L1252.5 775.0L1254.7 773.7L1256.8 772.3L1258.9 771.0L1261.0 769.6L1263.0 768.2L1265.1 766.8L1267.1 765.3L1269.2 763.9L1271.2 762.4L1273.2 760.9L1275.2 759.4L1277.2 757.9L1279.2 756.3L1281.1 754.8L1283.1 753.2L1285.0 751.6L1287.0 750.0L1288.9 748.4L1290.8 746.8L1292.7 745.2L1294.6 743.5L1296.5 741.9L1298.3 740.2L1300.2 738.5L1302.0 736.8L1303.9 735.1L1305.7 733.4L1307.5 731.7L1309.3 730.0L1311.1 728.2L1312.9 726.4L1314.6 724.7L1316.4 722.9L1318.2 721.1L1319.9 719.3L1321.6 717.5L1323.3 715.7L1325.0 713.8L1326.7 712.0L1328.4 710.1L1330.1 708.3L1331.8 706.4L1333.4 704.5L1335.1 702.6L1336.7 700.8L1338.3 698.8L1339.9 696.9L1341.6 695.0L1343.1 693.1L1344.7 691.1L1346.3 689.2L1347.9 687.2L1349.4 685.3L1351.0 683.3L1352.5 681.3L1354.0 679.4L1355.6 677.4L1357.1 675.4L1358.6 673.4L1360.1 671.4L1361.6 669.3L1363.0 667.3L1364.5 665.3L1366.0 663.3L1367.4 661.2L1368.8 659.2L1370.3 657.1L1371.7 655.1L1373.1 653.0L1374.5 650.9L1375.9 648.8L1377.3 646.8L1378.7 644.7L1380.1 642.6L1381.4 640.5L1382.8 638.4L1384.1 636.3L1385.5 634.2L1386.8 632.0L1388.2 629.9L1389.5 627.8L1390.8 625.7L1392.1 623.5L1393.4 621.4L1394.7 619.2L1396.0 617.1L1397.2 614.9L1398.5 612.8L1399.8 610.6L1401.0 608.5L1402.3 606.3L1403.5 604.1L1404.8 601.9L1406.0 599.8"/>
<path class="c" stroke-width="5.6" stroke-dasharray="17 2" d="M1152.2 795.6L1154.7 796.1L1157.1 796.5L1159.6 797.0L1162.1 797.3L1164.6 797.6L1167.1 797.9L1169.6 798.1L1172.1 798.3L1174.6 798.4L1177.1 798.5L1179.6 798.5L1182.1 798.4L1184.6 798.3L1187.1 798.1L1189.6 797.9L1192.0 797.7L1194.5 797.3L1197.0 797.0L1199.5 796.5L1201.9 796.1L1204.4 795.5L1206.8 794.9L1209.2 794.3L1211.6 793.6L1214.0 792.9L1216.4 792.1L1218.8 791.3L1221.1 790.5L1223.5 789.6"/>
<path class="c" stroke-width="5.6" stroke-dasharray="15 3" d="M310.0 1093.3L311.8 1091.6L313.6 1089.8L315.5 1088.1L317.3 1086.4L319.1 1084.7L321.0 1083.0L322.8 1081.3L324.7 1079.6L326.5 1077.9L328.3 1076.2L330.2 1074.5L332.0 1072.8L333.9 1071.1L335.7 1069.4L337.5 1067.7L339.4 1066.0L341.2 1064.3L343.0 1062.6L344.8 1060.8L346.6 1059.1L348.4 1057.4L350.2 1055.6L352.0 1053.8L353.7 1052.1L355.5 1050.3L357.3 1048.5L359.0 1046.7L360.7 1044.9L362.5 1043.1L364.2 1041.3L365.9 1039.4L367.6 1037.6L369.2 1035.7L370.9 1033.8L372.5 1032.0L374.2 1030.1L375.8 1028.1L377.4 1026.2L379.0 1024.3L380.6 1022.4L382.2 1020.4L383.7 1018.5L385.3 1016.5L386.8 1014.5L388.3 1012.5L389.9 1010.5L391.4 1008.5L392.9 1006.5L394.4 1004.5L395.8 1002.5L397.3 1000.5L398.8 998.5L400.2 996.4L401.7 994.4L403.1 992.3L404.6 990.3L406.0 988.2L407.5 986.2L408.9 984.1L410.3 982.1L411.7 980.0L413.1 977.9L414.5 975.8L415.9 973.8L417.3 971.7L418.7 969.6L420.1 967.5L421.5 965.4L422.8 963.3L424.2 961.2L425.6 959.1L427.0 957.0L428.3 955.0L429.7 952.9L431.0 950.7L432.4 948.6L433.8 946.5L435.1 944.4L436.5 942.3L437.8 940.2L439.2 938.1L440.5 936.0L441.9 933.9L443.2 931.8L444.6 929.7L445.9 927.6L447.3 925.5L448.6 923.4L450.0 921.2L451.3 919.1L452.7 917.0L454.0 914.9L455.4 912.8L456.7 910.7L458.1 908.6L459.5 906.5L460.8 904.4L462.2 902.3L463.5 900.2L464.9 898.1L466.3 896.0L467.7 893.9L469.0 891.8L470.4 889.7L471.8 887.6L473.2 885.6L474.6 883.5L476.0 881.4L477.4 879.3L478.8 877.2L480.2 875.2L481.6 873.1L483.0 871.1L484.5 869.0L485.9 866.9L487.3 864.9L488.8 862.9L490.2 860.8L491.7 858.8L493.2 856.8L494.7 854.7L496.1 852.7L497.6 850.7L499.1 848.7L500.6 846.7L502.2 844.7L503.7 842.7L505.2 840.7L506.7 838.8L508.3 836.8L509.8 834.8L511.3 832.8L512.9 830.9L514.4 828.9L516.0 826.9L517.6 825.0L519.1 823.0L520.7 821.1L522.3 819.1L523.8 817.2L525.4 815.2L527.0 813.3L528.6 811.3L530.1 809.4L531.7 807.4L533.3 805.5L534.9 803.5L536.4 801.6L538.0 799.7L539.6 797.7L541.2 795.8L542.7 793.8L544.3 791.9L545.9 789.9L547.4 788.0L549.0 786.0L550.6 784.0L552.1 782.1L553.7 780.1L555.2 778.1L556.8 776.2L558.3 774.2L559.8 772.2L561.4 770.2L562.9 768.3L564.4 766.3L565.9 764.3L567.5 762.3L569.0 760.3L570.5 758.3L572.0 756.3L573.4 754.2L574.9 752.2L576.4 750.2L577.9 748.2L579.3 746.1L580.8 744.1L582.2 742.0L583.6 740.0L585.1 737.9L586.5 735.9L587.9 733.8L589.3 731.7L590.7 729.7L592.1 727.6L593.5 725.5L594.8 723.4L596.2 721.3L597.6 719.2L598.9 717.1L600.2 715.0L601.6 712.8L602.9 710.7L604.2 708.6L605.5 706.4L606.8 704.3L608.1 702.1L609.4 700.0"/>
<path class="c" stroke-width="5.6" stroke-dasharray="21 12" d="M609.4 700.0L610.6 697.8L611.9 695.7L613.2 693.5L614.4 691.3L615.7 689.2L616.9 687.0L618.1 684.8L619.3 682.6L620.6 680.4L621.8 678.2L623.0 676.0L624.2 673.8L625.4 671.6L626.6 669.4L627.8 667.2L629.0 665.0L630.1 662.8L631.3 660.6L632.5 658.4L633.7 656.2L634.8 654.0L636.0 651.8L637.2 649.6L638.3 647.3L639.5 645.1L640.7 642.9L641.8 640.7L643.0 638.5L644.2 636.3L645.3 634.0L646.5 631.8L647.6 629.6L648.8 627.4L649.9 625.1L651.1 622.9L652.2 620.7L653.4 618.5L654.5 616.2L655.7 614.0L656.8 611.8L657.9 609.5L659.0 607.3L660.2 605.1L661.3 602.8L662.4 600.6L663.5 598.3L664.6 596.1L665.7 593.8L666.8 591.6L667.9 589.3L668.9 587.1L670.0 584.8L671.1 582.5L672.1 580.3L673.2 578.0L674.2 575.7L675.3 573.4L676.3 571.1L677.3 568.9L678.3 566.6L679.3 564.3L680.3 562.0L681.3 559.7L682.3 557.4L683.3 555.1L684.3 552.8L685.3 550.5L686.2 548.2L687.2 545.8L688.1 543.5L689.1 541.2L690.0 538.9L691.0 536.6L691.9 534.3L692.9 531.9L693.8 529.6L694.7 527.3L695.6 525.0L696.5 522.6L697.5 520.3L698.4 518.0L699.3 515.6L700.2 513.3L701.1 510.9L702.0 508.6L702.9 506.3L703.7 503.9L704.6 501.6L705.5 499.2L706.4 496.9L707.3 494.5L708.1 492.2L709.0 489.9L709.9 487.5L710.7 485.2L711.6 482.8L712.4 480.4L713.3 478.1L714.1 475.7L715.0 473.4L715.8 471.0L716.7 468.7L717.5 466.3L718.4 464.0L719.2 461.6L720.0 459.2L720.9 456.9L721.7 454.5L722.5 452.1L723.4 449.8L724.2 447.4L725.0 445.1L725.8 442.7L726.6 440.3L727.5 438.0L728.3 435.6L729.1 433.2L729.9 430.8L730.7 428.5L731.5 426.1L732.3 423.7L733.1 421.4L733.9 419.0L734.7 416.6L735.5 414.3L736.3 411.9L737.1 409.5L737.9 407.1L738.7 404.8L739.5 402.4L740.3 400.0L741.1 397.6L741.9 395.3L742.7 392.9L743.5 390.5L744.3 388.1L745.1 385.7L745.9 383.4L746.6 381.0L747.4 378.6L748.2 376.2L749.0 373.9L749.8 371.5L750.5 369.1L751.3 366.7L752.1 364.3L752.9 362.0L753.7 359.6L754.4 357.2L755.2 354.8L756.0 352.4L756.8 350.1L757.6 347.7L758.3 345.3L759.1 342.9L759.9 340.5L760.7 338.2L761.5 335.8L762.2 333.4L763.0 331.0L763.8 328.7L764.6 326.3L765.4 323.9L766.2 321.5L767.0 319.2L767.8 316.8L768.6 314.4L769.4 312.0L770.3 309.7L771.1 307.3L771.9 305.0L772.7 302.6L773.6 300.2L774.4 297.9L775.2 295.5L776.1 293.2L776.9 290.8L777.8 288.4L778.7 286.1L779.6 283.8L780.4 281.4L781.3 279.1L782.2 276.7L783.2 274.4L784.1 272.1L785.0 269.8L786.0 267.4L786.9 265.1L787.9 262.8L788.9 260.5L789.9 258.2L790.9 255.9L791.9 253.7L793.0 251.4L794.1 249.1L795.2 246.9L796.3 244.6L797.5 242.4L798.6 240.2L799.9 238.0L801.1 235.9L802.4 233.7L803.8 231.6L805.2 229.5L806.6 227.5L808.1 225.5L809.8 223.6L811.5 221.8L813.3 220.0L815.2 218.4L817.2 216.9L819.4 215.7L821.7 214.7L824.1 214.1L826.6 213.9L829.1 214.1L831.5 214.7L833.8 215.6L836.0 216.8L838.1 218.3L840.0 219.9L841.8 221.6L843.5 223.4L845.1 225.3L846.7 227.3L848.2 229.3L849.6 231.4L851.0 233.4L852.4 235.6L853.7 237.7L854.9 239.8L856.2 242.0L857.4 244.2L858.6 246.4L859.8 248.6L860.9 250.9L862.0 253.1L863.1 255.3L864.2 257.6L865.3 259.9L866.3 262.1L867.4 264.4L868.4 266.7L869.4 269.0L870.4 271.3L871.4 273.6L872.4 275.9L873.4 278.2L874.3 280.5L875.3 282.8L876.3 285.1L877.2 287.4L878.1 289.8L879.1 292.1L880.0 294.4L880.9 296.7L881.9 299.1L882.8 301.4L883.7 303.7L884.6 306.1L885.5 308.4L886.4 310.7L887.3 313.1L888.2 315.4L889.1 317.8L890.0 320.1L890.9 322.4L891.7 324.8L892.6 327.1L893.5 329.5L894.4 331.8L895.3 334.1L896.2 336.5L897.0 338.8L897.9 341.2L898.8 343.5L899.7 345.9L900.5 348.2L901.4 350.6L902.3 352.9L903.2 355.3L904.0 357.6L904.9 360.0L905.8 362.3L906.6 364.7L907.5 367.0L908.4 369.4L909.2 371.7L910.1 374.1L911.0 376.4L911.8 378.8L912.7 381.1L913.6 383.5L914.4 385.8L915.3 388.2L916.1 390.5L917.0 392.9L917.9 395.2L918.7 397.6L919.6 399.9L920.5 402.3L921.3 404.6L922.2 407.0L923.1 409.3L923.9 411.7L924.8 414.0L925.7 416.4L926.5 418.7L927.4 421.0L928.3 423.4L929.1 425.7L930.0 428.1L930.9 430.4L931.7 432.8L932.6 435.1L933.5 437.5L934.4 439.8L935.2 442.2L936.1 444.5L937.0 446.9L937.9 449.2L938.8 451.6L939.6 453.9L940.5 456.2L941.4 458.6L942.3 460.9L943.2 463.3L944.1 465.6L945.0 467.9L945.9 470.3L946.7 472.6L947.6 475.0L948.5 477.3L949.4 479.6L950.3 482.0L951.3 484.3L952.2 486.6L953.1 489.0L954.0 491.3L954.9 493.6L955.8 496.0L956.7 498.3L957.7 500.6L958.6 502.9L959.5 505.3L960.5 507.6L961.4 509.9L962.3 512.2L963.3 514.6L964.2 516.9L965.2 519.2L966.1 521.5L967.1 523.8L968.1 526.1L969.0 528.4L970.0 530.7L971.0 533.0L972.0 535.4L973.0 537.7L973.9 540.0L974.9 542.3L975.9 544.6L976.9 546.8L977.9 549.1L978.9 551.4L980.0 553.7L981.0 556.0L982.0 558.3L983.0 560.6L984.1 562.9L985.1 565.1L986.2 567.4L987.2 569.7L988.3 572.0L989.3 574.2L990.4 576.5L991.4 578.8L992.5 581.0L993.6 583.3L994.7 585.5L995.8 587.8L996.9 590.0L998.0 592.3L999.1 594.5L1000.2 596.8L1001.3 599.0L1002.4 601.3L1003.5 603.5L1004.7 605.7L1005.8 608.0L1006.9 610.2L1008.1 612.4L1009.2 614.7L1010.4 616.9L1011.6 619.1L1012.7 621.3L1013.9 623.5L1015.1 625.7L1016.3 627.9L1017.5 630.1L1018.7 632.3L1019.9 634.5L1021.1 636.7L1022.4 638.9L1023.6 641.1L1024.8 643.2L1026.1 645.4L1027.3 647.6L1028.6 649.7L1029.8 651.9L1031.1 654.1L1032.4 656.2L1033.7 658.4L1035.0 660.5L1036.3 662.6L1037.6 664.8L1038.9 666.9L1040.2 669.0L1041.6 671.1L1042.9 673.3L1044.3 675.4L1045.6 677.5L1047.0 679.6L1048.4 681.7L1049.7 683.8L1051.1 685.8L1052.5 687.9L1053.9 690.0L1055.4 692.0L1056.8 694.1L1058.2 696.2L1059.7 698.2L1061.1 700.2L1062.6 702.3L1064.0 704.3L1065.5 706.3L1067.0 708.3L1068.5 710.3L1070.0 712.3L1071.5 714.3L1073.1 716.3L1074.6 718.3L1076.2 720.2L1077.7 722.2L1079.3 724.1L1080.9 726.1L1082.5 728.0L1084.1 729.9L1085.7 731.9L1087.3 733.8L1089.0 735.7L1090.6 737.5L1092.3 739.4L1094.0 741.3L1095.6 743.1L1097.3 745.0L1099.1 746.8L1100.8 748.6L1102.5 750.4L1104.3 752.2L1106.0 754.0L1107.8 755.7L1109.6 757.5L1111.4 759.2L1113.2 760.9L1115.1 762.7L1116.9 764.3L1118.8 766.0L1120.6 767.7L1122.5 769.3L1124.4 770.9L1126.3 772.6L1128.3 774.1L1130.2 775.7L1132.2 777.3L1134.2 778.8L1136.2 780.3L1138.2 781.8L1140.2 783.3L1142.3 784.7L1144.3 786.1L1146.4 787.5L1148.5 788.9L1150.6 790.3L1152.7 791.6L1154.9 792.9L1157.0 794.2L1159.2 795.4L1161.4 796.6L1163.6 797.8L1165.8 799.0L1168.0 800.1L1170.3 801.2L1172.5 802.3L1174.8 803.3L1177.1 804.3L1179.4 805.3L1181.8 806.2L1184.1 807.1L1186.4 808.0L1188.8 808.8L1191.2 809.6L1193.6 810.3L1196.0 811.0L1198.4 811.7L1200.8 812.3L1203.3 812.9L1205.7 813.4L1208.2 813.9L1210.6 814.3L1213.1 814.7L1215.6 815.0L1218.1 815.3L1220.6 815.6L1223.1 815.7L1225.6 815.9L1228.1 816.0L1230.6 816.0L1233.1 816.0L1235.6 815.9L1238.1 815.8L1240.6 815.6L1243.1 815.4L1245.6 815.1L1248.0 814.8L1250.5 814.4L1253.0 814.0L1255.4 813.5L1257.9 813.0L1260.3 812.4L1262.8 811.7L1265.2 811.1L1267.6 810.3L1269.9 809.6L1272.3 808.8L1274.7 807.9L1277.0 807.0L1279.3 806.1L1281.6 805.1L1283.9 804.0L1286.2 803.0L1288.4 801.9L1290.7 800.7L1292.9 799.6L1295.1 798.4L1297.2 797.1L1299.4 795.9L1301.5 794.5L1303.6 793.2L1305.7 791.8L1307.8 790.5L1309.9 789.0L1311.9 787.6L1314.0 786.1L1316.0 784.6L1318.0 783.1L1319.9 781.6L1321.9 780.0L1323.9 778.5L1325.8 776.9L1327.7 775.3L1329.6 773.7L1331.5 772.0L1333.4 770.4L1335.3 768.7L1337.2 767.1L1339.0 765.4L1340.9 763.7L1342.7 762.0L1344.5 760.3L1346.4 758.6L1348.2 756.8L1350.0 755.1L1351.8 753.4L1353.6 751.6L1355.4 749.8L1357.1 748.1L1358.9 746.3L1360.7 744.5L1362.4 742.7L1364.2 741.0L1365.9 739.2L1367.7 737.4L1369.4 735.5L1371.1 733.7L1372.8 731.9L1374.5 730.0L1376.1 728.2L1377.8 726.3L1379.4 724.4L1381.0 722.4L1382.6 720.5L1384.2 718.6L1385.7 716.6L1387.2 714.6L1388.7 712.6L1390.2 710.6L1391.6 708.5L1393.1 706.4L1394.5 704.4L1395.8 702.3L1397.2 700.2L1398.5 698.0L1399.8 695.9L1401.1 693.8L1402.4 691.6L1403.6 689.4L1404.8 687.2L1406.0 685.0"/>
<path class="c" stroke-width="5.6" stroke-dasharray="17 2" d="M1179.4 805.3L1181.8 806.2L1184.1 807.1L1186.4 808.0L1188.8 808.8L1191.2 809.6L1193.6 810.3L1196.0 811.0L1198.4 811.7L1200.8 812.3L1203.3 812.9L1205.7 813.4L1208.2 813.9L1210.6 814.3L1213.1 814.7L1215.6 815.0L1218.1 815.3L1220.6 815.6L1223.1 815.7L1225.6 815.9L1228.1 816.0L1230.6 816.0L1233.1 816.0L1235.6 815.9L1238.1 815.8L1240.6 815.6L1243.1 815.4L1245.6 815.1L1248.0 814.8L1250.5 814.4L1253.0 814.0L1255.4 813.5L1257.9 813.0L1260.3 812.4L1262.8 811.7L1265.2 811.1L1267.6 810.3L1269.9 809.6L1272.3 808.8L1274.7 807.9L1277.0 807.0L1279.3 806.1L1281.6 805.1L1283.9 804.0L1286.2 803.0L1288.4 801.9"/>
<path class="c" stroke-width="5.6" stroke-dasharray="12 3" d="M310.0 1098.1L311.8 1096.4L313.7 1094.7L315.5 1093.0L317.4 1091.3L319.2 1089.6L321.1 1087.9L322.9 1086.2L324.7 1084.5L326.6 1082.8L328.4 1081.1L330.2 1079.4L332.0 1077.6L333.8 1075.9L335.6 1074.2L337.4 1072.4L339.2 1070.7L341.0 1068.9L342.8 1067.2L344.6 1065.4L346.3 1063.6L348.1 1061.9L349.9 1060.1L351.6 1058.3L353.3 1056.5L355.1 1054.7L356.8 1052.9L358.5 1051.0L360.2 1049.2L361.9 1047.4L363.6 1045.5L365.3 1043.7L366.9 1041.8L368.6 1039.9L370.3 1038.0L371.9 1036.1L373.5 1034.2L375.1 1032.3L376.8 1030.4L378.4 1028.5L379.9 1026.6L381.5 1024.6L383.1 1022.7L384.7 1020.7L386.2 1018.7L387.7 1016.8L389.3 1014.8L390.8 1012.8L392.3 1010.8L393.8 1008.8L395.3 1006.8L396.8 1004.8L398.2 1002.7L399.7 1000.7L401.2 998.7L402.6 996.6L404.1 994.6L405.5 992.5L406.9 990.5L408.4 988.4L409.8 986.4L411.2 984.3L412.6 982.2L414.0 980.2L415.4 978.1L416.8 976.0L418.2 974.0L419.6 971.9L421.0 969.8L422.4 967.7L423.8 965.6L425.2 963.5L426.5 961.4L427.9 959.4L429.3 957.3L430.7 955.2L432.0 953.1L433.4 951.0L434.8 948.9L436.2 946.8L437.5 944.7L438.9 942.6L440.3 940.5L441.6 938.4L443.0 936.3L444.4 934.2L445.8 932.1L447.1 930.1L448.5 928.0L449.9 925.9L451.3 923.8L452.6 921.7L454.0 919.6L455.4 917.5L456.8 915.4L458.1 913.3L459.5 911.2L460.9 909.2L462.3 907.1L463.7 905.0L465.1 902.9L466.5 900.8L467.9 898.7L469.3 896.7L470.7 894.6L472.1 892.5L473.5 890.5L474.9 888.4L476.3 886.3L477.7 884.3L479.2 882.2L480.6 880.1L482.0 878.1L483.4 876.0L484.9 874.0L486.3 871.9L487.8 869.9L489.2 867.9L490.7 865.8L492.2 863.8L493.6 861.8L495.1 859.8L496.6 857.7L498.1 855.7L499.6 853.7L501.1 851.7L502.6 849.7L504.1 847.7L505.6 845.8L507.2 843.8L508.7 841.8L510.3 839.8L511.8 837.9L513.4 835.9L515.0 834.0L516.5 832.0L518.1 830.1L519.7 828.2L521.4 826.3L523.0 824.4L524.6 822.5L526.2 820.6L527.9 818.7L529.5 816.8L531.1 814.9L532.8 813.0L534.4 811.1L536.1 809.2L537.8 807.4L539.4 805.5L541.1 803.6L542.8 801.8L544.4 799.9L546.1 798.0L547.7 796.2L549.4 794.3L551.1 792.4L552.7 790.5L554.4 788.7L556.1 786.8L557.7 784.9L559.4 783.0L561.0 781.1L562.6 779.3L564.3 777.4L565.9 775.5L567.5 773.6L569.2 771.6L570.8 769.7L572.4 767.8L574.0 765.9L575.6 764.0L577.1 762.0L578.7 760.1L580.3 758.1L581.9 756.2L583.4 754.2L585.0 752.2L586.5 750.3L588.1 748.3L589.6 746.3L591.1 744.3L592.6 742.3L594.1 740.3L595.6 738.3L597.1 736.3L598.6 734.3L600.1 732.3L601.6 730.3L603.0 728.2L604.5 726.2L605.9 724.2L607.4 722.1L608.8 720.1L610.2 718.0L611.7 715.9L613.1 713.9L614.5 711.8L615.9 709.7L617.3 707.6L618.6 705.6L620.0 703.5L621.4 701.4L622.7 699.3"/>
<path class="c" stroke-width="5.6" stroke-dasharray="15 11 5 11" d="M622.7 699.3L624.1 697.2L625.4 695.1L626.8 692.9L628.1 690.8L629.4 688.7L630.8 686.6L632.1 684.4L633.4 682.3L634.7 680.2L635.9 678.0L637.2 675.9L638.5 673.7L639.8 671.5L641.0 669.4L642.3 667.2L643.5 665.0L644.8 662.9L646.0 660.7L647.2 658.5L648.5 656.3L649.7 654.1L650.9 651.9L652.1 649.7L653.3 647.5L654.5 645.3L655.6 643.1L656.8 640.9L658.0 638.7L659.1 636.5L660.3 634.3L661.4 632.0L662.6 629.8L663.7 627.6L664.9 625.4L666.0 623.1L667.1 620.9L668.2 618.6L669.3 616.4L670.4 614.1L671.5 611.9L672.6 609.6L673.7 607.4L674.8 605.1L675.8 602.9L676.9 600.6L678.0 598.3L679.0 596.1L680.1 593.8L681.1 591.5L682.2 589.2L683.2 587.0L684.2 584.7L685.3 582.4L686.3 580.1L687.3 577.8L688.3 575.5L689.3 573.2L690.3 571.0L691.3 568.7L692.3 566.4L693.3 564.1L694.3 561.7L695.2 559.4L696.2 557.1L697.2 554.8L698.1 552.5L699.1 550.2L700.0 547.9L701.0 545.6L701.9 543.3L702.9 540.9L703.8 538.6L704.7 536.3L705.7 534.0L706.6 531.6L707.5 529.3L708.4 527.0L709.3 524.6L710.2 522.3L711.2 520.0L712.1 517.6L713.0 515.3L713.9 513.0L714.7 510.6L715.6 508.3L716.5 506.0L717.4 503.6L718.3 501.3L719.2 498.9L720.1 496.6L720.9 494.2L721.8 491.9L722.7 489.6L723.6 487.2L724.4 484.9L725.3 482.5L726.2 480.2L727.0 477.8L727.9 475.5L728.7 473.1L729.6 470.8L730.5 468.4L731.3 466.1L732.2 463.7L733.0 461.3L733.9 459.0L734.7 456.6L735.6 454.3L736.4 451.9L737.3 449.6L738.1 447.2L739.0 444.9L739.8 442.5L740.7 440.2L741.5 437.8L742.4 435.4L743.2 433.1L744.0 430.7L744.9 428.4L745.7 426.0L746.6 423.7L747.4 421.3L748.3 418.9L749.1 416.6L749.9 414.2L750.8 411.9L751.6 409.5L752.5 407.2L753.3 404.8L754.2 402.4L755.0 400.1L755.8 397.7L756.7 395.4L757.5 393.0L758.4 390.7L759.2 388.3L760.1 385.9L760.9 383.6L761.8 381.2L762.6 378.9L763.5 376.5L764.3 374.2L765.2 371.8L766.0 369.5L766.9 367.1L767.7 364.8L768.6 362.4L769.4 360.1L770.3 357.7L771.2 355.4L772.0 353.0L772.9 350.7L773.7 348.3L774.6 346.0L775.5 343.6L776.3 341.3L777.2 338.9L778.1 336.6L779.0 334.2L779.8 331.9L780.7 329.5L781.6 327.2L782.5 324.9L783.4 322.5L784.3 320.2L785.2 317.8L786.1 315.5L787.0 313.2L787.9 310.8L788.8 308.5L789.7 306.2L790.6 303.8L791.5 301.5L792.4 299.2L793.3 296.8L794.3 294.5L795.2 292.2L796.1 289.9L797.1 287.6L798.0 285.2L799.0 282.9L800.0 280.6L801.0 278.3L801.9 276.0L802.9 273.7L804.0 271.4L805.0 269.2L806.0 266.9L807.1 264.6L808.1 262.3L809.2 260.1L810.3 257.8L811.5 255.6L812.6 253.4L813.8 251.2L815.0 249.0L816.2 246.8L817.5 244.6L818.8 242.5L820.1 240.4L821.5 238.3L822.9 236.2L824.5 234.2L826.0 232.3L827.7 230.4L829.4 228.6L831.3 227.0L833.3 225.5L835.5 224.2L837.8 223.2L840.2 222.5L842.7 222.3L845.1 222.4L847.6 222.9L849.9 223.8L852.2 224.9L854.3 226.2L856.3 227.7L858.2 229.3L860.1 231.0L861.8 232.8L863.5 234.7L865.1 236.6L866.6 238.6L868.1 240.6L869.6 242.6L871.0 244.7L872.3 246.8L873.7 248.9L875.0 251.0L876.3 253.2L877.5 255.4L878.7 257.6L879.9 259.7L881.1 262.0L882.3 264.2L883.4 266.4L884.6 268.6L885.7 270.9L886.8 273.1L887.9 275.4L888.9 277.6L890.0 279.9L891.1 282.2L892.1 284.4L893.1 286.7L894.1 289.0L895.2 291.3L896.2 293.6L897.2 295.9L898.1 298.2L899.1 300.5L900.1 302.8L901.1 305.1L902.0 307.4L903.0 309.7L903.9 312.1L904.9 314.4L905.8 316.7L906.8 319.0L907.7 321.3L908.6 323.7L909.5 326.0L910.5 328.3L911.4 330.6L912.3 333.0L913.2 335.3L914.1 337.6L915.0 340.0L915.9 342.3L916.9 344.6L917.8 347.0L918.7 349.3L919.6 351.6L920.5 354.0L921.4 356.3L922.2 358.6L923.1 361.0L924.0 363.3L924.9 365.7L925.8 368.0L926.7 370.3L927.6 372.7L928.5 375.0L929.4 377.4L930.2 379.7L931.1 382.1L932.0 384.4L932.9 386.7L933.8 389.1L934.6 391.4L935.5 393.8L936.4 396.1L937.3 398.5L938.2 400.8L939.0 403.1L939.9 405.5L940.8 407.8L941.7 410.2L942.6 412.5L943.4 414.9L944.3 417.2L945.2 419.6L946.1 421.9L946.9 424.2L947.8 426.6L948.7 428.9L949.6 431.3L950.5 433.6L951.3 436.0L952.2 438.3L953.1 440.6L954.0 443.0L954.9 445.3L955.8 447.7L956.6 450.0L957.5 452.4L958.4 454.7L959.3 457.0L960.2 459.4L961.1 461.7L962.0 464.1L962.9 466.4L963.8 468.7L964.7 471.1L965.6 473.4L966.5 475.7L967.4 478.1L968.3 480.4L969.2 482.7L970.1 485.1L971.0 487.4L971.9 489.7L972.8 492.1L973.8 494.4L974.7 496.7L975.6 499.0L976.5 501.4L977.5 503.7L978.4 506.0L979.3 508.3L980.3 510.7L981.2 513.0L982.2 515.3L983.1 517.6L984.1 519.9L985.0 522.2L986.0 524.5L987.0 526.9L987.9 529.2L988.9 531.5L989.9 533.8L990.9 536.1L991.9 538.4L992.8 540.7L993.8 543.0L994.9 545.3L995.9 547.5L996.9 549.8L997.9 552.1L998.9 554.4L1000.0 556.7L1001.0 559.0L1002.1 561.2L1003.1 563.5L1004.2 565.8L1005.2 568.0L1006.3 570.3L1007.4 572.6L1008.5 574.8L1009.5 577.1L1010.6 579.3L1011.7 581.6L1012.8 583.8L1014.0 586.1L1015.1 588.3L1016.2 590.5L1017.3 592.8L1018.5 595.0L1019.6 597.2L1020.8 599.4L1021.9 601.7L1023.1 603.9L1024.3 606.1L1025.4 608.3L1026.6 610.5L1027.8 612.7L1029.0 614.9L1030.2 617.1L1031.4 619.3L1032.7 621.5L1033.9 623.7L1035.1 625.8L1036.4 628.0L1037.6 630.2L1038.9 632.3L1040.1 634.5L1041.4 636.7L1042.7 638.8L1043.9 641.0L1045.2 643.1L1046.5 645.3L1047.8 647.4L1049.1 649.5L1050.5 651.7L1051.8 653.8L1053.1 655.9L1054.4 658.0L1055.8 660.1L1057.1 662.2L1058.5 664.3L1059.9 666.4L1061.2 668.5L1062.6 670.6L1064.0 672.7L1065.4 674.8L1066.8 676.9L1068.2 678.9L1069.6 681.0L1071.0 683.1L1072.5 685.1L1073.9 687.2L1075.3 689.2L1076.8 691.3L1078.2 693.3L1079.7 695.3L1081.2 697.3L1082.6 699.4L1084.1 701.4L1085.6 703.4L1087.1 705.4L1088.6 707.4L1090.2 709.4L1091.7 711.4L1093.2 713.3L1094.8 715.3L1096.3 717.3L1097.9 719.2L1099.4 721.2L1101.0 723.1L1102.6 725.1L1104.2 727.0L1105.8 728.9L1107.4 730.8L1109.1 732.7L1110.7 734.6L1112.3 736.5L1114.0 738.4L1115.7 740.2L1117.3 742.1L1119.0 744.0L1120.7 745.8L1122.4 747.6L1124.2 749.4L1125.9 751.2L1127.7 753.0L1129.4 754.8L1131.2 756.6L1133.0 758.3L1134.8 760.1L1136.6 761.8L1138.4 763.5L1140.3 765.2L1142.1 766.9L1144.0 768.5L1145.9 770.2L1147.8 771.8L1149.7 773.4L1151.6 775.0L1153.5 776.6L1155.5 778.2L1157.5 779.7L1159.5 781.2L1161.5 782.7L1163.5 784.2L1165.5 785.7L1167.6 787.1L1169.6 788.5L1171.7 789.9L1173.8 791.3L1176.0 792.6L1178.1 793.9L1180.2 795.2L1182.4 796.4L1184.6 797.6L1186.8 798.8L1189.1 799.9L1191.3 801.0L1193.6 802.1L1195.8 803.1L1198.1 804.1L1200.4 805.1L1202.8 806.0L1205.1 806.9L1207.5 807.7L1209.9 808.5L1212.3 809.2L1214.7 809.9L1217.1 810.5L1219.5 811.1L1222.0 811.7L1224.4 812.1L1226.9 812.6L1229.4 813.0L1231.8 813.3L1234.3 813.5L1236.8 813.7L1239.3 813.9L1241.8 814.0L1244.3 814.0L1246.8 814.0L1249.3 813.9L1251.8 813.7L1254.3 813.5L1256.8 813.3L1259.3 812.9L1261.8 812.6L1264.2 812.1L1266.7 811.6L1269.1 811.1L1271.6 810.5L1274.0 809.9L1276.4 809.2L1278.8 808.5L1281.2 807.8L1283.6 807.0L1285.9 806.2L1288.3 805.3L1290.6 804.4L1293.0 803.5L1295.3 802.5L1297.6 801.5L1299.8 800.5L1302.1 799.4L1304.4 798.3L1306.6 797.2L1308.8 796.1L1311.1 794.9L1313.3 793.7L1315.5 792.5L1317.6 791.3L1319.8 790.1L1322.0 788.8L1324.1 787.5L1326.3 786.2L1328.4 784.9L1330.5 783.6L1332.6 782.2L1334.7 780.9L1336.8 779.5L1338.9 778.1L1341.0 776.7L1343.0 775.3L1345.1 773.8L1347.1 772.4L1349.2 770.9L1351.2 769.5L1353.2 768.0L1355.2 766.5L1357.2 765.0L1359.2 763.5L1361.2 762.0L1363.2 760.5L1365.2 759.0L1367.2 757.4L1369.2 755.9L1371.1 754.4L1373.1 752.8L1375.1 751.3L1377.0 749.7L1379.0 748.1L1380.9 746.6L1382.9 745.0L1384.8 743.4L1386.7 741.8L1388.7 740.2L1390.6 738.6L1392.5 737.0L1394.5 735.4L1396.4 733.8L1398.3 732.2L1400.2 730.6L1402.2 729.0L1404.1 727.4L1406.0 725.8"/>
<path class="c" stroke-width="5.6" stroke-dasharray="17 2" d="M1205.1 806.9L1207.5 807.7L1209.9 808.5L1212.3 809.2L1214.7 809.9L1217.1 810.5L1219.5 811.1L1222.0 811.7L1224.4 812.1L1226.9 812.6L1229.4 813.0L1231.8 813.3L1234.3 813.5L1236.8 813.7L1239.3 813.9L1241.8 814.0L1244.3 814.0L1246.8 814.0L1249.3 813.9L1251.8 813.7L1254.3 813.5L1256.8 813.3L1259.3 812.9L1261.8 812.6L1264.2 812.1L1266.7 811.6L1269.1 811.1L1271.6 810.5L1274.0 809.9L1276.4 809.2L1278.8 808.5L1281.2 807.8L1283.6 807.0L1285.9 806.2L1288.3 805.3L1290.6 804.4L1293.0 803.5L1295.3 802.5L1297.6 801.5L1299.8 800.5"/>
<path class="c" stroke-width="5.6" stroke-dasharray="16 2.5" d="M310.0 1103.0L311.8 1101.3L313.7 1099.6L315.5 1097.9L317.3 1096.2L319.2 1094.5L321.0 1092.7L322.8 1091.0L324.6 1089.3L326.4 1087.6L328.3 1085.9L330.1 1084.1L331.9 1082.4L333.7 1080.6L335.4 1078.9L337.2 1077.1L339.0 1075.4L340.8 1073.6L342.5 1071.8L344.3 1070.1L346.1 1068.3L347.8 1066.5L349.5 1064.7L351.3 1062.9L353.0 1061.0L354.7 1059.2L356.4 1057.4L358.1 1055.5L359.8 1053.7L361.5 1051.8L363.1 1050.0L364.8 1048.1L366.5 1046.2L368.1 1044.3L369.7 1042.4L371.4 1040.5L373.0 1038.6L374.6 1036.7L376.2 1034.8L377.8 1032.8L379.3 1030.9L380.9 1028.9L382.4 1027.0L384.0 1025.0L385.5 1023.0L387.0 1021.0L388.6 1019.0L390.1 1017.0L391.5 1015.0L393.0 1013.0L394.5 1011.0L396.0 1009.0L397.4 1006.9L398.9 1004.9L400.3 1002.8L401.8 1000.8L403.2 998.8L404.7 996.7L406.1 994.7L407.5 992.6L409.0 990.5L410.4 988.5L411.8 986.4L413.2 984.4L414.7 982.3L416.1 980.2L417.5 978.2L418.9 976.1L420.3 974.1L421.8 972.0L423.2 969.9L424.6 967.9L426.1 965.8L427.5 963.8L428.9 961.7L430.4 959.7L431.8 957.7L433.3 955.6L434.7 953.6L436.2 951.6L437.7 949.5L439.2 947.5L440.7 945.5L442.2 943.5L443.7 941.5L445.2 939.5L446.7 937.5L448.3 935.6L449.8 933.6L451.4 931.7L453.0 929.7L454.6 927.8L456.2 925.9L457.8 924.0L459.5 922.1L461.1 920.2L462.8 918.3L464.5 916.5L466.2 914.6L467.9 912.8L469.6 911.0L471.3 909.2L473.1 907.4L474.8 905.6L476.6 903.8L478.4 902.1L480.1 900.3L481.9 898.6L483.8 896.9L485.6 895.1L487.4 893.4L489.2 891.7L491.1 890.0L492.9 888.4L494.8 886.7L496.7 885.0L498.6 883.4L500.4 881.7L502.3 880.1L504.2 878.4L506.1 876.8L508.0 875.2L509.9 873.6L511.8 871.9L513.8 870.3L515.7 868.7L517.6 867.1L519.5 865.5L521.4 863.9L523.3 862.3L525.2 860.7L527.2 859.0L529.1 857.4L531.0 855.8L532.9 854.2L534.8 852.5L536.7 850.9L538.6 849.3L540.4 847.6L542.3 846.0L544.2 844.3L546.1 842.6L547.9 841.0L549.8 839.3L551.6 837.6L553.4 835.9L555.3 834.2L557.1 832.4L558.9 830.7L560.7 829.0L562.5 827.2L564.3 825.5L566.1 823.7L567.9 822.0L569.6 820.2L571.4 818.4L573.1 816.6L574.9 814.8L576.6 813.0L578.4 811.2L580.1 809.4L581.8 807.6L583.5 805.8L585.2 803.9L586.9 802.1L588.6 800.3L590.3 798.4L592.0 796.6L593.7 794.7L595.3 792.8L597.0 791.0L598.6 789.1L600.3 787.2L601.9 785.3L603.6 783.4L605.2 781.5L606.8 779.6L608.4 777.7L610.0 775.8L611.6 773.8L613.2 771.9L614.8 770.0L616.4 768.1L618.0 766.1L619.6 764.2L621.1 762.2L622.7 760.3L624.3 758.3L625.8 756.3L627.4 754.4L628.9 752.4L630.4 750.4L632.0 748.4L633.5 746.5L635.0 744.5"/>
<path class="c" stroke-width="5.6" stroke-dasharray="27 13 6 13" d="M635.0 744.5L636.5 742.5L638.0 740.5L639.5 738.5L641.0 736.5L642.5 734.5L644.0 732.4L645.5 730.4L647.0 728.4L648.4 726.4L649.9 724.4L651.4 722.3L652.8 720.3L654.3 718.3L655.7 716.2L657.2 714.2L658.6 712.1L660.1 710.1L661.5 708.0L662.9 706.0L664.4 703.9L665.8 701.8L667.2 699.8L668.6 697.7L670.0 695.6L671.4 693.6L672.8 691.5L674.2 689.4L675.6 687.3L677.0 685.2L678.4 683.2L679.8 681.1L681.1 679.0L682.5 676.9L683.9 674.8L685.2 672.7L686.6 670.6L688.0 668.5L689.3 666.4L690.7 664.3L692.0 662.2L693.4 660.1L694.7 658.0L696.0 655.8L697.4 653.7L698.7 651.6L700.0 649.5L701.4 647.4L702.7 645.2L704.0 643.1L705.3 641.0L706.6 638.8L708.0 636.7L709.3 634.6L710.6 632.4L711.9 630.3L713.2 628.2L714.5 626.0L715.8 623.9L717.0 621.7L718.3 619.6L719.6 617.4L720.9 615.3L722.2 613.1L723.5 611.0L724.7 608.8L726.0 606.7L727.3 604.5L728.5 602.4L729.8 600.2L731.0 598.0L732.3 595.9L733.5 593.7L734.8 591.5L736.0 589.3L737.2 587.2L738.5 585.0L739.7 582.8L740.9 580.6L742.1 578.4L743.3 576.2L744.5 574.0L745.7 571.8L746.9 569.6L748.1 567.4L749.3 565.2L750.4 563.0L751.6 560.8L752.8 558.6L753.9 556.3L755.1 554.1L756.2 551.9L757.4 549.7L758.5 547.4L759.6 545.2L760.7 543.0L761.9 540.7L763.0 538.5L764.1 536.2L765.2 534.0L766.3 531.7L767.3 529.5L768.4 527.2L769.5 524.9L770.6 522.7L771.6 520.4L772.7 518.1L773.7 515.9L774.8 513.6L775.8 511.3L776.8 509.0L777.9 506.7L778.9 504.5L779.9 502.2L780.9 499.9L781.9 497.6L782.9 495.3L783.9 493.0L784.9 490.7L785.8 488.4L786.8 486.1L787.8 483.8L788.7 481.5L789.7 479.1L790.6 476.8L791.6 474.5L792.5 472.2L793.4 469.9L794.4 467.5L795.3 465.2L796.2 462.9L797.1 460.5L798.0 458.2L798.9 455.9L799.8 453.5L800.7 451.2L801.6 448.9L802.5 446.5L803.4 444.2L804.3 441.8L805.2 439.5L806.1 437.2L806.9 434.8L807.8 432.5L808.7 430.1L809.5 427.8L810.4 425.4L811.2 423.1L812.1 420.7L812.9 418.4L813.8 416.0L814.6 413.6L815.5 411.3L816.3 408.9L817.2 406.6L818.0 404.2L818.8 401.9L819.7 399.5L820.5 397.1L821.3 394.8L822.2 392.4L823.0 390.0L823.8 387.7L824.6 385.3L825.4 383.0L826.3 380.6L827.1 378.2L827.9 375.9L828.7 373.5L829.5 371.1L830.3 368.7L831.1 366.4L832.0 364.0L832.8 361.6L833.6 359.3L834.4 356.9L835.2 354.5L836.0 352.2L836.8 349.8L837.6 347.4L838.4 345.0L839.2 342.7L840.0 340.3L840.8 337.9L841.6 335.6L842.4 333.2L843.2 330.8L844.0 328.4L844.8 326.1L845.6 323.7L846.4 321.3L847.1 318.9L847.9 316.6L848.7 314.2L849.5 311.8L850.3 309.4L851.1 307.1L851.9 304.7L852.7 302.3L853.5 299.9L854.3 297.6L855.1 295.2L855.9 292.8L856.7 290.5L857.5 288.1L858.3 285.7L859.1 283.3L859.9 281.0L860.7 278.6L861.5 276.2L862.3 273.9L863.1 271.5L863.9 269.1L864.8 266.8L865.6 264.4L866.4 262.0L867.2 259.7L868.1 257.3L868.9 255.0L869.7 252.6L870.6 250.2L871.4 247.9L872.3 245.5L873.1 243.2L874.0 240.8L874.8 238.5L875.7 236.1L876.6 233.8L877.5 231.4L878.4 229.1L879.3 226.8L880.2 224.4L881.1 222.1L882.0 219.8L882.9 217.4L883.9 215.1L884.8 212.8L885.7 210.5L886.7 208.2L887.7 205.9L888.7 203.6L889.7 201.3L890.7 199.0L891.7 196.7L892.8 194.4L893.8 192.2L894.9 189.9L896.0 187.6L897.1 185.4L898.2 183.2L899.4 181.0L900.6 178.7L901.8 176.6L903.0 174.4L904.3 172.2L905.6 170.1L907.0 168.0L908.4 165.9L909.9 163.9L911.4 161.9L913.0 160.0L914.6 158.1L916.4 156.3L918.3 154.7L920.2 153.1L922.4 151.8L924.6 150.8L927.0 150.0L929.5 149.7L932.0 149.8L934.4 150.4L936.8 151.3L938.9 152.5L941.0 154.0L942.8 155.7L944.6 157.4L946.3 159.3L947.8 161.3L949.3 163.3L950.7 165.4L952.0 167.5L953.3 169.6L954.6 171.8L955.8 174.0L957.0 176.2L958.1 178.4L959.2 180.7L960.3 182.9L961.4 185.2L962.4 187.4L963.5 189.7L964.5 192.0L965.5 194.3L966.4 196.6L967.4 198.9L968.3 201.3L969.3 203.6L970.2 205.9L971.1 208.2L972.0 210.6L972.9 212.9L973.8 215.3L974.6 217.6L975.5 220.0L976.4 222.3L977.2 224.7L978.1 227.0L978.9 229.4L979.7 231.7L980.6 234.1L981.4 236.5L982.2 238.8L983.0 241.2L983.8 243.6L984.7 245.9L985.5 248.3L986.3 250.7L987.1 253.0L987.9 255.4L988.7 257.8L989.5 260.2L990.3 262.5L991.1 264.9L991.8 267.3L992.6 269.7L993.4 272.0L994.2 274.4L995.0 276.8L995.8 279.2L996.5 281.5L997.3 283.9L998.1 286.3L998.9 288.7L999.7 291.1L1000.4 293.4L1001.2 295.8L1002.0 298.2L1002.7 300.6L1003.5 303.0L1004.3 305.3L1005.1 307.7L1005.8 310.1L1006.6 312.5L1007.4 314.9L1008.1 317.3L1008.9 319.6L1009.6 322.0L1010.4 324.4L1011.2 326.8L1011.9 329.2L1012.7 331.6L1013.5 334.0L1014.2 336.3L1015.0 338.7L1015.7 341.1L1016.5 343.5L1017.3 345.9L1018.0 348.3L1018.8 350.6L1019.5 353.0L1020.3 355.4L1021.1 357.8L1021.8 360.2L1022.6 362.6L1023.3 365.0L1024.1 367.3L1024.8 369.7L1025.6 372.1L1026.4 374.5L1027.1 376.9L1027.9 379.3L1028.6 381.7L1029.4 384.0L1030.2 386.4L1030.9 388.8L1031.7 391.2L1032.5 393.6L1033.2 396.0L1034.0 398.3L1034.7 400.7L1035.5 403.1L1036.3 405.5L1037.0 407.9L1037.8 410.3L1038.6 412.6L1039.4 415.0L1040.1 417.4L1040.9 419.8L1041.7 422.2L1042.4 424.5L1043.2 426.9L1044.0 429.3L1044.8 431.7L1045.6 434.1L1046.3 436.4L1047.1 438.8L1047.9 441.2L1048.7 443.6L1049.5 446.0L1050.3 448.3L1051.1 450.7L1051.9 453.1L1052.6 455.4L1053.4 457.8L1054.2 460.2L1055.0 462.6L1055.8 464.9L1056.6 467.3L1057.5 469.7L1058.3 472.0L1059.1 474.4L1059.9 476.8L1060.7 479.1L1061.5 481.5L1062.3 483.9L1063.2 486.2L1064.0 488.6L1064.8 491.0L1065.7 493.3L1066.5 495.7L1067.3 498.0L1068.2 500.4L1069.0 502.8L1069.9 505.1L1070.7 507.5L1071.6 509.8L1072.5 512.2L1073.3 514.5L1074.2 516.9L1075.1 519.2L1075.9 521.6L1076.8 523.9L1077.7 526.2L1078.6 528.6L1079.5 530.9L1080.4 533.3L1081.3 535.6L1082.2 537.9L1083.1 540.3L1084.0 542.6L1084.9 544.9L1085.8 547.3L1086.7 549.6L1087.7 551.9L1088.6 554.2L1089.5 556.6L1090.5 558.9L1091.4 561.2L1092.4 563.5L1093.3 565.8L1094.3 568.1L1095.2 570.4L1096.2 572.8L1097.2 575.1L1098.1 577.4L1099.1 579.7L1100.1 582.0L1101.1 584.3L1102.1 586.6L1103.1 588.9L1104.1 591.2L1105.1 593.5L1106.1 595.7L1107.1 598.0L1108.2 600.3L1109.2 602.6L1110.2 604.9L1111.3 607.1L1112.3 609.4L1113.4 611.7L1114.4 614.0L1115.5 616.2L1116.5 618.5L1117.6 620.8L1118.7 623.0L1119.8 625.3L1120.9 627.5L1122.0 629.8L1123.1 632.0L1124.2 634.3L1125.3 636.5L1126.4 638.8L1127.5 641.0L1128.7 643.2L1129.8 645.5L1130.9 647.7L1132.1 649.9L1133.2 652.1L1134.4 654.3L1135.6 656.5L1136.8 658.8L1137.9 661.0L1139.1 663.2L1140.3 665.4L1141.5 667.6L1142.7 669.8L1144.0 671.9L1145.2 674.1L1146.4 676.3L1147.7 678.5L1148.9 680.6L1150.2 682.8L1151.4 685.0L1152.7 687.1L1154.0 689.3L1155.3 691.4L1156.5 693.6L1157.8 695.7L1159.2 697.8L1160.5 700.0L1161.8 702.1L1163.1 704.2L1164.5 706.3L1165.8 708.4L1167.2 710.5L1168.5 712.6L1169.9 714.7L1171.3 716.8L1172.7 718.9L1174.1 721.0L1175.5 723.0L1176.9 725.1L1178.4 727.2L1179.8 729.2L1181.2 731.3L1182.7 733.3L1184.2 735.3L1185.6 737.3L1187.1 739.4L1188.6 741.4L1190.1 743.4L1191.6 745.4L1193.1 747.4L1194.7 749.3L1196.2 751.3L1197.8 753.3L1199.3 755.2L1200.9 757.2L1202.5 759.1L1204.1 761.0L1205.7 762.9L1207.3 764.9L1209.0 766.8L1210.6 768.6L1212.3 770.5L1213.9 772.4L1215.6 774.2L1217.3 776.1L1219.0 777.9L1220.7 779.8L1222.4 781.6L1224.2 783.4L1225.9 785.2L1227.7 786.9L1229.5 788.7L1231.3 790.4L1233.1 792.2L1234.9 793.9L1236.7 795.6L1238.6 797.3L1240.4 799.0L1242.3 800.6L1244.2 802.3L1246.1 803.9L1248.0 805.5L1249.9 807.1L1251.9 808.7L1253.8 810.2L1255.8 811.8L1257.8 813.3L1259.8 814.8L1261.8 816.3L1263.9 817.7L1265.9 819.2L1268.0 820.6L1270.1 822.0L1272.2 823.3L1274.3 824.7L1276.4 826.0L1278.5 827.3L1280.7 828.6L1282.8 829.8L1285.0 831.1L1287.2 832.3L1289.4 833.4L1291.7 834.6L1293.9 835.7L1296.2 836.8L1298.4 837.8L1300.7 838.9L1303.0 839.9L1305.3 840.9L1307.6 841.8L1310.0 842.7L1312.3 843.6L1314.7 844.4L1317.0 845.2L1319.4 846.0L1321.8 846.8L1324.2 847.5L1326.6 848.2L1329.0 848.8L1331.4 849.4L1333.9 850.0L1336.3 850.5L1338.8 851.1L1341.2 851.5L1343.7 852.0L1346.2 852.4L1348.6 852.7L1351.1 853.1L1353.6 853.4L1356.1 853.6L1358.6 853.9L1361.1 854.1L1363.6 854.2L1366.1 854.4L1368.6 854.4L1371.1 854.5L1373.6 854.5L1376.1 854.5L1378.6 854.5L1381.1 854.4L1383.6 854.3L1386.1 854.2L1388.6 854.0L1391.1 853.8L1393.6 853.6L1396.1 853.3L1398.6 853.0L1401.0 852.7L1403.5 852.4L1406.0 852.0"/>
<path class="c" stroke-width="5.6" stroke-dasharray="17 2" d="M1305.3 840.9L1307.6 841.8L1310.0 842.7L1312.3 843.6L1314.7 844.4L1317.0 845.2L1319.4 846.0L1321.8 846.8L1324.2 847.5L1326.6 848.2L1329.0 848.8L1331.4 849.4L1333.9 850.0L1336.3 850.5L1338.8 851.1L1341.2 851.5L1343.7 852.0L1346.2 852.4L1348.6 852.7L1351.1 853.1L1353.6 853.4L1356.1 853.6L1358.6 853.9L1361.1 854.1L1363.6 854.2L1366.1 854.4L1368.6 854.4L1371.1 854.5"/>
<path class="c" stroke-width="5.6" stroke-dasharray="13 2.5" d="M310.0 1107.7L311.9 1106.0L313.8 1104.4L315.7 1102.7L317.5 1101.0L319.4 1099.4L321.2 1097.7L323.0 1095.9L324.9 1094.2L326.7 1092.5L328.5 1090.8L330.2 1089.0L332.0 1087.2L333.8 1085.5L335.6 1083.7L337.3 1081.9L339.0 1080.1L340.8 1078.3L342.5 1076.5L344.2 1074.7L345.9 1072.8L347.6 1071.0L349.3 1069.1L351.0 1067.3L352.7 1065.4L354.3 1063.6L356.0 1061.7L357.7 1059.8L359.3 1057.9L360.9 1056.0L362.6 1054.1L364.2 1052.2L365.8 1050.3L367.4 1048.4L369.0 1046.5L370.6 1044.5L372.2 1042.6L373.8 1040.7L375.4 1038.7L376.9 1036.8L378.5 1034.8L380.1 1032.9L381.6 1030.9L383.2 1028.9L384.7 1027.0L386.2 1025.0L387.8 1023.0L389.3 1021.0L390.8 1019.0L392.3 1017.1L393.9 1015.1L395.4 1013.1L396.9 1011.1L398.4 1009.1L399.8 1007.0L401.3 1005.0L402.8 1003.0L404.3 1001.0L405.8 999.0L407.2 996.9L408.7 994.9L410.2 992.9L411.6 990.8L413.1 988.8L414.5 986.8L416.0 984.7L417.4 982.7L418.9 980.6L420.3 978.6L421.8 976.6L423.2 974.5L424.7 972.5L426.1 970.4L427.6 968.4L429.0 966.3L430.5 964.3L431.9 962.3L433.4 960.2L434.9 958.2L436.3 956.2L437.8 954.2L439.3 952.2L440.8 950.2L442.3 948.2L443.8 946.2L445.3 944.2L446.9 942.2L448.4 940.2L449.9 938.3L451.5 936.3L453.1 934.4L454.7 932.4L456.3 930.5L457.9 928.6L459.6 926.7L461.2 924.8L462.9 923.0L464.5 921.1L466.2 919.2L467.9 917.4L469.6 915.6L471.4 913.8L473.1 912.0L474.9 910.2L476.6 908.4L478.4 906.6L480.2 904.9L482.0 903.1L483.8 901.4L485.6 899.7L487.4 897.9L489.2 896.2L491.0 894.5L492.9 892.8L494.7 891.1L496.6 889.4L498.4 887.8L500.3 886.1L502.2 884.4L504.0 882.8L505.9 881.1L507.8 879.5L509.7 877.8L511.6 876.2L513.5 874.5L515.4 872.9L517.3 871.3L519.2 869.6L521.1 868.0L523.0 866.4L524.9 864.8L526.8 863.1L528.7 861.5L530.6 859.9L532.5 858.2L534.4 856.6L536.3 855.0L538.2 853.4L540.1 851.7L542.0 850.1L543.9 848.4L545.7 846.8L547.6 845.2L549.5 843.5L551.4 841.8L553.3 840.2L555.1 838.5L557.0 836.8L558.8 835.2L560.7 833.5L562.5 831.8L564.4 830.1L566.2 828.4L568.0 826.7L569.8 824.9L571.6 823.2L573.4 821.5L575.2 819.7L577.0 818.0L578.8 816.2L580.6 814.4L582.3 812.7L584.1 810.9L585.9 809.1L587.6 807.3L589.3 805.5L591.1 803.7L592.8 801.9L594.5 800.1L596.2 798.3L598.0 796.4L599.7 794.6L601.3 792.7L603.0 790.9L604.7 789.0L606.4 787.2L608.1 785.3L609.7 783.4L611.4 781.6L613.0 779.7L614.7 777.8L616.3 775.9L618.0 774.0L619.6 772.1L621.2 770.2L622.8 768.3L624.4 766.4L626.0 764.5L627.6 762.5L629.2 760.6L630.8 758.7L632.4 756.7L634.0 754.8L635.5 752.8L637.1 750.9L638.7 748.9L640.2 747.0L641.8 745.0"/>
<path class="c" stroke-width="5.6" stroke-dasharray="5 6" d="M641.8 745.0L643.3 743.0L644.9 741.1L646.4 739.1L647.9 737.1L649.5 735.1L651.0 733.1L652.5 731.1L654.0 729.2L655.5 727.2L657.1 725.2L658.6 723.2L660.1 721.2L661.6 719.2L663.1 717.2L664.6 715.2L666.1 713.2L667.6 711.2L669.1 709.2L670.6 707.2L672.1 705.1L673.6 703.1L675.1 701.1L676.6 699.1L678.0 697.1L679.5 695.1L681.0 693.1L682.5 691.1L684.0 689.1L685.5 687.0L687.0 685.0L688.5 683.0L690.0 681.0L691.5 679.0L692.9 677.0L694.4 675.0L695.9 673.0L697.4 671.0L698.9 669.0L700.4 667.0L701.9 665.0L703.4 663.0L704.9 661.0L706.4 659.0L708.0 657.0L709.5 655.0L711.0 653.0L712.5 651.0L714.0 649.0L715.5 647.0L717.0 645.0L718.5 643.0L720.0 641.0L721.5 639.0L723.0 637.0L724.5 634.9L726.0 632.9L727.4 630.9L728.9 628.9L730.3 626.8L731.8 624.8L733.2 622.7L734.6 620.6L736.0 618.6L737.4 616.5L738.8 614.4L740.2 612.3L741.5 610.2L742.9 608.1L744.2 606.0L745.5 603.9L746.8 601.7L748.1 599.6L749.4 597.4L750.7 595.3L752.0 593.1L753.2 591.0L754.5 588.8L755.7 586.6L757.0 584.5L758.2 582.3L759.4 580.1L760.6 577.9L761.9 575.7L763.1 573.5L764.3 571.3L765.4 569.1L766.6 566.9L767.8 564.7L769.0 562.5L770.2 560.3L771.3 558.1L772.5 555.9L773.6 553.6L774.8 551.4L775.9 549.2L777.1 547.0L778.2 544.7L779.4 542.5L780.5 540.3L781.6 538.0L782.8 535.8L783.9 533.6L785.0 531.3L786.1 529.1L787.3 526.9L788.4 524.6L789.5 522.4L790.6 520.1L791.7 517.9L792.8 515.6L793.9 513.4L795.0 511.1L796.1 508.9L797.2 506.6L798.3 504.4L799.4 502.1L800.5 499.9L801.5 497.6L802.6 495.4L803.7 493.1L804.7 490.8L805.8 488.6L806.8 486.3L807.9 484.0L808.9 481.7L810.0 479.5L811.0 477.2L812.1 474.9L813.1 472.6L814.1 470.3L815.1 468.1L816.1 465.8L817.1 463.5L818.2 461.2L819.2 458.9L820.1 456.6L821.1 454.3L822.1 452.0L823.1 449.7L824.1 447.4L825.0 445.1L826.0 442.8L827.0 440.4L827.9 438.1L828.9 435.8L829.8 433.5L830.8 431.2L831.7 428.9L832.6 426.5L833.5 424.2L834.5 421.9L835.4 419.6L836.3 417.2L837.2 414.9L838.1 412.6L839.0 410.2L839.9 407.9L840.8 405.5L841.7 403.2L842.6 400.9L843.5 398.5L844.4 396.2L845.3 393.9L846.1 391.5L847.0 389.2L847.9 386.8L848.8 384.5L849.6 382.1L850.5 379.8L851.4 377.4L852.3 375.1L853.1 372.7L854.0 370.4L854.9 368.0L855.7 365.7L856.6 363.3L857.5 361.0L858.3 358.6L859.2 356.3L860.0 353.9L860.9 351.6L861.8 349.2L862.6 346.9L863.5 344.5L864.3 342.2L865.2 339.8L866.1 337.5L866.9 335.1L867.8 332.8L868.6 330.4L869.5 328.1L870.4 325.7L871.2 323.4L872.1 321.0L873.0 318.7L873.8 316.3L874.7 314.0L875.6 311.6L876.4 309.3L877.3 307.0L878.2 304.6L879.0 302.3L879.9 299.9L880.8 297.6L881.7 295.2L882.6 292.9L883.4 290.5L884.3 288.2L885.2 285.9L886.1 283.5L887.0 281.2L887.9 278.9L888.8 276.5L889.7 274.2L890.6 271.8L891.5 269.5L892.4 267.2L893.4 264.9L894.3 262.5L895.2 260.2L896.1 257.9L897.1 255.6L898.0 253.2L899.0 250.9L899.9 248.6L900.9 246.3L901.8 244.0L902.8 241.7L903.8 239.4L904.7 237.1L905.7 234.8L906.7 232.5L907.7 230.2L908.7 227.9L909.7 225.6L910.8 223.3L911.8 221.0L912.8 218.7L913.9 216.5L915.0 214.2L916.0 212.0L917.1 209.7L918.2 207.5L919.4 205.2L920.5 203.0L921.7 200.8L922.8 198.6L924.0 196.4L925.3 194.2L926.5 192.0L927.8 189.9L929.1 187.7L930.4 185.6L931.8 183.5L933.2 181.5L934.7 179.4L936.2 177.5L937.8 175.5L939.5 173.7L941.2 171.8L943.0 170.1L945.0 168.5L947.0 167.1L949.2 165.8L951.5 164.8L953.9 164.2L956.4 163.9L958.8 164.1L961.3 164.7L963.6 165.7L965.7 166.9L967.8 168.4L969.7 170.0L971.5 171.8L973.1 173.6L974.8 175.5L976.3 177.5L977.8 179.5L979.2 181.6L980.6 183.7L981.9 185.8L983.2 188.0L984.4 190.1L985.6 192.3L986.8 194.5L987.9 196.8L989.1 199.0L990.2 201.3L991.2 203.5L992.3 205.8L993.3 208.1L994.4 210.3L995.4 212.6L996.4 214.9L997.3 217.2L998.3 219.6L999.2 221.9L1000.2 224.2L1001.1 226.5L1002.0 228.8L1002.9 231.2L1003.8 233.5L1004.7 235.9L1005.6 238.2L1006.4 240.6L1007.3 242.9L1008.1 245.3L1009.0 247.6L1009.8 250.0L1010.7 252.3L1011.5 254.7L1012.3 257.1L1013.1 259.4L1014.0 261.8L1014.8 264.2L1015.6 266.5L1016.4 268.9L1017.2 271.3L1018.0 273.6L1018.8 276.0L1019.6 278.4L1020.4 280.8L1021.1 283.1L1021.9 285.5L1022.7 287.9L1023.5 290.3L1024.3 292.7L1025.0 295.0L1025.8 297.4L1026.6 299.8L1027.4 302.2L1028.1 304.6L1028.9 306.9L1029.7 309.3L1030.5 311.7L1031.2 314.1L1032.0 316.5L1032.8 318.8L1033.6 321.2L1034.3 323.6L1035.1 326.0L1035.9 328.4L1036.7 330.7L1037.4 333.1L1038.2 335.5L1039.0 337.9L1039.7 340.3L1040.5 342.6L1041.3 345.0L1042.1 347.4L1042.8 349.8L1043.6 352.2L1044.4 354.5L1045.2 356.9L1045.9 359.3L1046.7 361.7L1047.5 364.1L1048.3 366.4L1049.1 368.8L1049.8 371.2L1050.6 373.6L1051.4 376.0L1052.2 378.3L1053.0 380.7L1053.7 383.1L1054.5 385.5L1055.3 387.8L1056.1 390.2L1056.9 392.6L1057.7 395.0L1058.5 397.3L1059.3 399.7L1060.1 402.1L1060.9 404.5L1061.7 406.8L1062.5 409.2L1063.3 411.6L1064.1 413.9L1064.9 416.3L1065.7 418.7L1066.5 421.0L1067.3 423.4L1068.2 425.8L1069.0 428.1L1069.8 430.5L1070.6 432.9L1071.5 435.2L1072.3 437.6L1073.1 440.0L1073.9 442.3L1074.8 444.7L1075.6 447.0L1076.5 449.4L1077.3 451.7L1078.2 454.1L1079.0 456.5L1079.9 458.8L1080.7 461.2L1081.6 463.5L1082.4 465.9L1083.3 468.2L1084.2 470.6L1085.0 472.9L1085.9 475.3L1086.8 477.6L1087.7 479.9L1088.5 482.3L1089.4 484.6L1090.3 487.0L1091.2 489.3L1092.1 491.7L1093.0 494.0L1093.9 496.3L1094.8 498.7L1095.7 501.0L1096.6 503.3L1097.5 505.7L1098.4 508.0L1099.3 510.3L1100.2 512.7L1101.1 515.0L1102.1 517.3L1103.0 519.6L1103.9 522.0L1104.9 524.3L1105.8 526.6L1106.7 528.9L1107.7 531.2L1108.6 533.6L1109.6 535.9L1110.5 538.2L1111.5 540.5L1112.4 542.8L1113.4 545.1L1114.4 547.4L1115.3 549.7L1116.3 552.0L1117.3 554.4L1118.3 556.7L1119.3 559.0L1120.3 561.3L1121.2 563.6L1122.2 565.8L1123.2 568.1L1124.2 570.4L1125.3 572.7L1126.3 575.0L1127.3 577.3L1128.3 579.6L1129.3 581.9L1130.4 584.2L1131.4 586.4L1132.4 588.7L1133.5 591.0L1134.5 593.3L1135.6 595.5L1136.6 597.8L1137.7 600.1L1138.7 602.3L1139.8 604.6L1140.9 606.9L1141.9 609.1L1143.0 611.4L1144.1 613.7L1145.2 615.9L1146.3 618.2L1147.4 620.4L1148.5 622.7L1149.6 624.9L1150.7 627.1L1151.8 629.4L1152.9 631.6L1154.1 633.9L1155.2 636.1L1156.3 638.3L1157.5 640.5L1158.6 642.8L1159.8 645.0L1160.9 647.2L1162.1 649.4L1163.3 651.6L1164.5 653.8L1165.6 656.1L1166.8 658.3L1168.0 660.5L1169.2 662.7L1170.4 664.8L1171.6 667.0L1172.8 669.2L1174.1 671.4L1175.3 673.6L1176.5 675.8L1177.8 677.9L1179.0 680.1L1180.3 682.3L1181.5 684.4L1182.8 686.6L1184.1 688.8L1185.3 690.9L1186.6 693.1L1187.9 695.2L1189.2 697.3L1190.5 699.5L1191.8 701.6L1193.2 703.7L1194.5 705.9L1195.8 708.0L1197.2 710.1L1198.5 712.2L1199.9 714.3L1201.3 716.4L1202.6 718.5L1204.0 720.6L1205.4 722.6L1206.8 724.7L1208.2 726.8L1209.6 728.9L1211.0 730.9L1212.5 733.0L1213.9 735.0L1215.4 737.1L1216.8 739.1L1218.3 741.1L1219.8 743.2L1221.2 745.2L1222.7 747.2L1224.2 749.2L1225.7 751.2L1227.3 753.2L1228.8 755.1L1230.3 757.1L1231.9 759.1L1233.4 761.0L1235.0 763.0L1236.6 764.9L1238.2 766.9L1239.8 768.8L1241.4 770.7L1243.0 772.6L1244.6 774.5L1246.3 776.4L1247.9 778.3L1249.6 780.2L1251.3 782.0L1252.9 783.9L1254.6 785.7L1256.4 787.5L1258.1 789.4L1259.8 791.2L1261.5 793.0L1263.3 794.8L1265.1 796.5L1266.8 798.3L1268.6 800.0L1270.4 801.8L1272.2 803.5L1274.1 805.2L1275.9 806.9L1277.8 808.6L1279.6 810.3L1281.5 811.9L1283.4 813.6L1285.3 815.2L1287.2 816.8L1289.1 818.4L1291.1 820.0L1293.0 821.6L1295.0 823.1L1297.0 824.6L1299.0 826.1L1301.0 827.6L1303.0 829.1L1305.0 830.6L1307.1 832.0L1309.1 833.4L1311.2 834.8L1313.3 836.2L1315.4 837.6L1317.5 838.9L1319.6 840.3L1321.8 841.6L1323.9 842.8L1326.1 844.1L1328.3 845.3L1330.5 846.5L1332.7 847.7L1334.9 848.9L1337.1 850.0L1339.3 851.2L1341.6 852.3L1343.8 853.3L1346.1 854.4L1348.4 855.4L1350.7 856.4L1353.0 857.4L1355.3 858.3L1357.7 859.2L1360.0 860.1L1362.4 861.0L1364.7 861.8L1367.1 862.6L1369.5 863.4L1371.8 864.2L1374.2 864.9L1376.6 865.6L1379.1 866.3L1381.5 866.9L1383.9 867.5L1386.3 868.1L1388.8 868.7L1391.2 869.2L1393.7 869.7L1396.1 870.2L1398.6 870.6L1401.1 871.1L1403.5 871.5L1406.0 871.8"/>
<path class="c" stroke-width="5.6" stroke-dasharray="17 2" d="M1305.0 830.6L1307.1 832.0L1309.1 833.4L1311.2 834.8L1313.3 836.2L1315.4 837.6L1317.5 838.9L1319.6 840.3L1321.8 841.6L1323.9 842.8L1326.1 844.1L1328.3 845.3L1330.5 846.5L1332.7 847.7L1334.9 848.9L1337.1 850.0L1339.3 851.2L1341.6 852.3L1343.8 853.3L1346.1 854.4L1348.4 855.4L1350.7 856.4L1353.0 857.4L1355.3 858.3L1357.7 859.2L1360.0 860.1L1362.4 861.0L1364.7 861.8L1367.1 862.6L1369.5 863.4L1371.8 864.2"/>
<line x1="321.0" y1="1079.0" x2="327.0" y2="1075.0" stroke="#fff" stroke-width="2.4"/>
<line x1="330.0" y1="1070.0" x2="336.0" y2="1062.0" stroke="#fff" stroke-width="2.4"/>
<line x1="345.0" y1="1053.0" x2="350.0" y2="1046.0" stroke="#fff" stroke-width="2.4"/>
<line x1="373.0" y1="1027.0" x2="376.0" y2="1024.0" stroke="#fff" stroke-width="2.4"/>
<line x1="433.5" y1="938.0" x2="436.0" y2="933.0" stroke="#fff" stroke-width="2.4"/>
<line x1="439.5" y1="929.0" x2="443.0" y2="924.0" stroke="#fff" stroke-width="2.4"/>
<line x1="318.0" y1="1090.0" x2="321.0" y2="1087.0" stroke="#fff" stroke-width="2.4"/>
</g>
<polygon class="f" stroke-width="5.4" stroke-linejoin="miter" points="319.3,55.2 1404.4,59.6 1404.5,580.0 1400.3,1148.1 311.0,1147.4 316.8,620.0"/>
<line class="f" stroke-width="4.4" x1="454.9" y1="55.8" x2="454.7" y2="93.1"/>
<line class="f" stroke-width="4.4" x1="447.2" y1="1147.5" x2="447.4" y2="1116.4"/>
<line class="f" stroke-width="4.4" x1="590.6" y1="56.3" x2="590.4" y2="93.2"/>
<line class="f" stroke-width="4.4" x1="583.3" y1="1147.6" x2="583.5" y2="1116.8"/>
<line class="f" stroke-width="4.4" x1="726.2" y1="56.9" x2="726.0" y2="93.3"/>
<line class="f" stroke-width="4.4" x1="719.5" y1="1147.7" x2="719.7" y2="1117.2"/>
<line class="f" stroke-width="4.4" x1="861.9" y1="57.4" x2="861.7" y2="93.4"/>
<line class="f" stroke-width="4.4" x1="855.6" y1="1147.8" x2="855.9" y2="1117.6"/>
<line class="f" stroke-width="4.4" x1="997.5" y1="58.0" x2="997.3" y2="93.5"/>
<line class="f" stroke-width="4.4" x1="991.8" y1="1147.8" x2="992.0" y2="1118.0"/>
<line class="f" stroke-width="4.4" x1="1133.1" y1="58.5" x2="1132.9" y2="93.6"/>
<line class="f" stroke-width="4.4" x1="1128.0" y1="1147.9" x2="1128.2" y2="1118.4"/>
<line class="f" stroke-width="4.4" x1="1268.8" y1="59.1" x2="1268.6" y2="93.7"/>
<line class="f" stroke-width="4.4" x1="1264.1" y1="1148.0" x2="1264.3" y2="1118.8"/>
<line class="f" stroke-width="4.4" x1="318.7" y1="191.8" x2="337.7" y2="191.9"/>
<line class="f" stroke-width="4.4" x1="1404.4" y1="196.7" x2="1387.4" y2="196.6"/>
<line class="f" stroke-width="4.4" x1="318.1" y1="327.0" x2="353.1" y2="327.1"/>
<line class="f" stroke-width="4.4" x1="1404.5" y1="332.0" x2="1373.5" y2="331.9"/>
<line class="f" stroke-width="4.4" x1="317.5" y1="464.3" x2="336.5" y2="464.4"/>
<line class="f" stroke-width="4.4" x1="1404.5" y1="467.0" x2="1387.5" y2="466.9"/>
<line class="f" stroke-width="4.4" x1="316.9" y1="601.3" x2="351.9" y2="601.4"/>
<line class="f" stroke-width="4.4" x1="1404.3" y1="602.7" x2="1373.3" y2="602.6"/>
<line class="f" stroke-width="4.4" x1="315.5" y1="738.5" x2="334.5" y2="738.6"/>
<line class="f" stroke-width="4.4" x1="1403.3" y1="739.5" x2="1386.3" y2="739.4"/>
<line class="f" stroke-width="4.4" x1="314.0" y1="875.8" x2="349.0" y2="875.9"/>
<line class="f" stroke-width="4.4" x1="1402.3" y1="879.6" x2="1371.3" y2="879.5"/>
<line class="f" stroke-width="4.4" x1="312.5" y1="1012.5" x2="331.5" y2="1012.6"/>
<line class="f" stroke-width="4.4" x1="1401.3" y1="1015.8" x2="1384.3" y2="1015.7"/>
<text class="tk" text-anchor="end" x="278.5" y="76.0">20</text>
<text class="tk" text-anchor="end" x="277.0" y="349.0">10</text>
<text class="tk" text-anchor="end" x="271.5" y="623.0">0</text>
<text class="tk" text-anchor="end" x="273.0" y="897.0">-10</text>
<text class="tk" text-anchor="end" x="269.0" y="1168.0">-20</text>
<text class="tk" text-anchor="middle" x="307.8" y="1244.0">5</text>
<text class="tk" text-anchor="middle" x="443.5" y="1244.2">6</text>
<text class="tk" text-anchor="middle" x="580.6" y="1244.3">7</text>
<text class="tk" text-anchor="middle" x="717.0" y="1244.5">8</text>
<text class="tk" text-anchor="middle" x="853.0" y="1244.6">9</text>
<text class="tk" text-anchor="middle" x="992.0" y="1244.8">10</text>
<text class="tk" text-anchor="middle" x="1126.7" y="1244.9">11</text>
<text class="tk" text-anchor="middle" x="1264.2" y="1245.0">12</text>
<text class="tk" text-anchor="middle" x="1400.0" y="1245.2">13</text>
<text class="ax" text-anchor="middle" x="860.5" y="1408">Frequency [GHz]</text>
<text class="ax" transform="translate(73 757.5) rotate(-90)">S<tspan dx="3.5" dy="21">21</tspan><tspan dx="6" dy="-21"> [dB]</tspan></text>
<rect x="870" y="703" width="12" height="3" fill="#222"/>
<rect x="638" y="1270" width="3" height="3" fill="#999"/>
</svg></body></html>
